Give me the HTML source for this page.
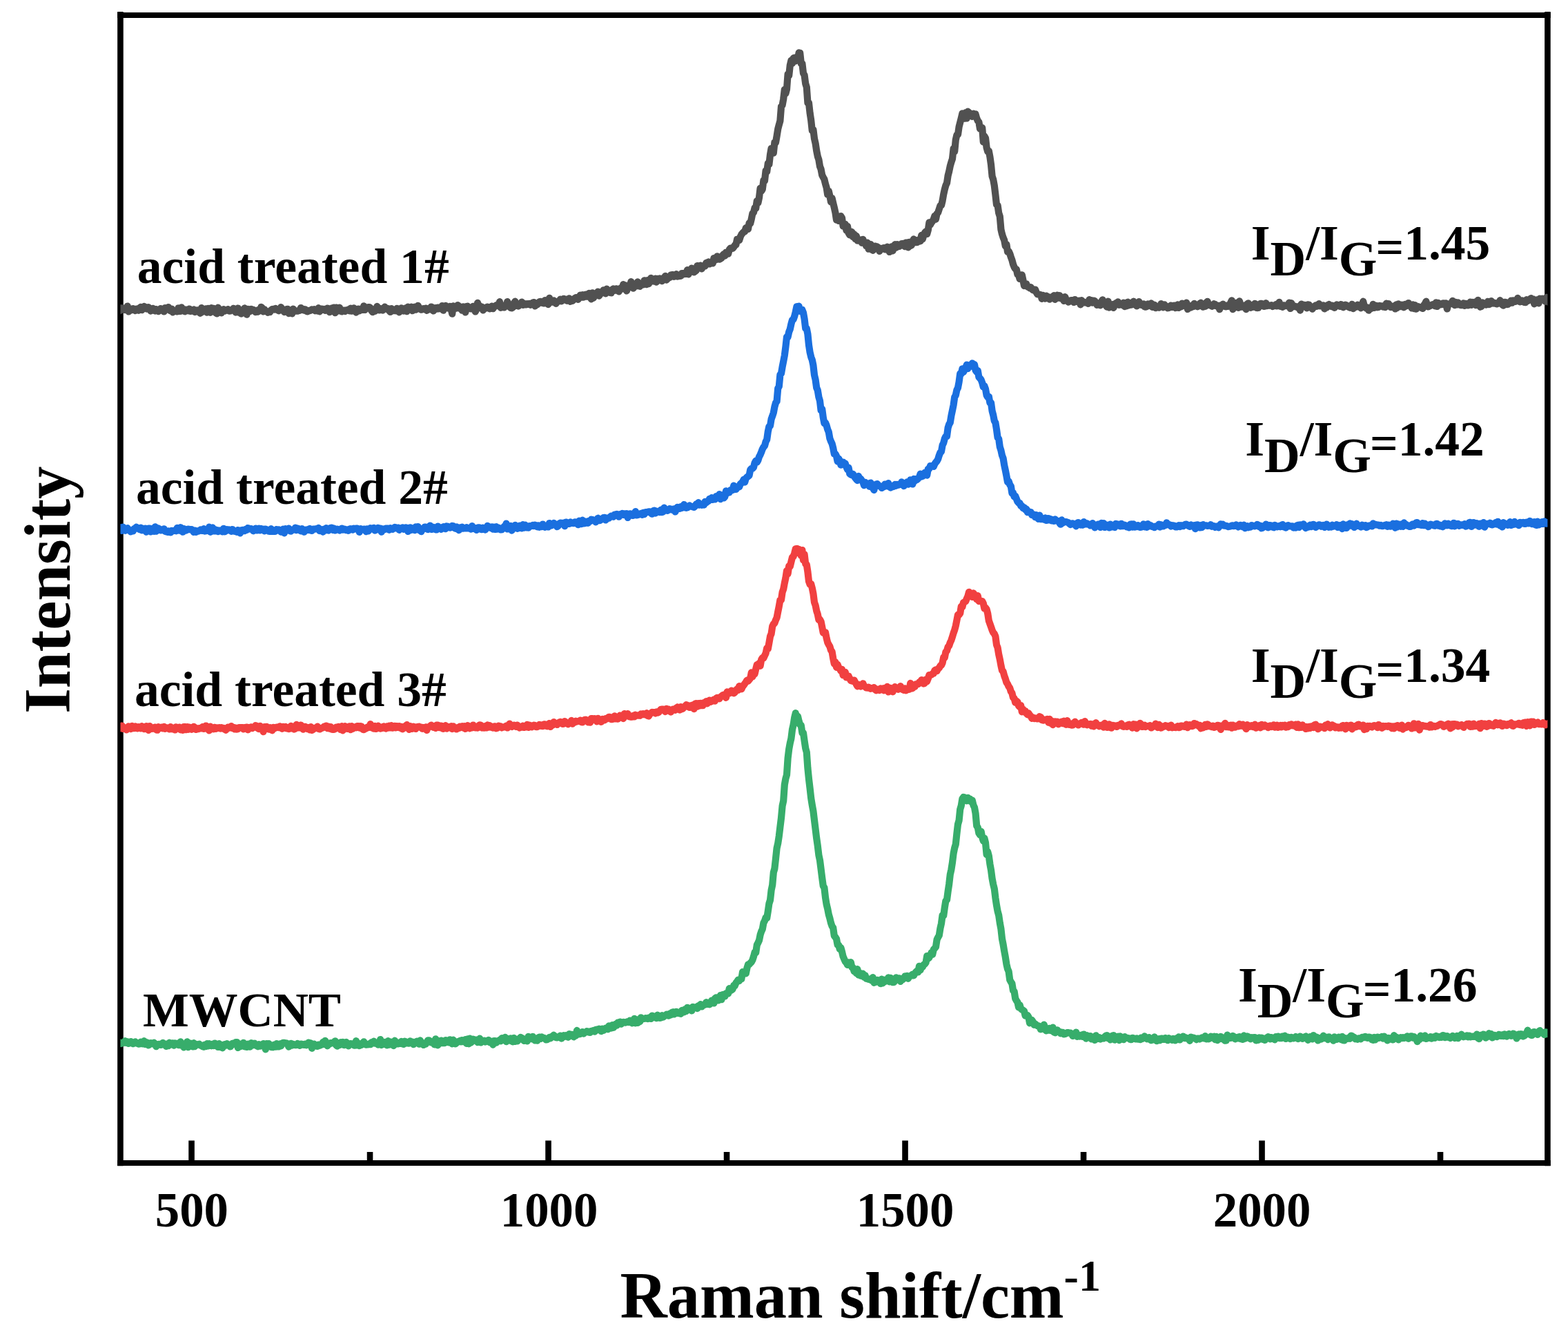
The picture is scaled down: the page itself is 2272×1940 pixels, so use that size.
<!DOCTYPE html>
<html lang="en">
<head>
<meta charset="utf-8">
<title>Raman spectra of MWCNT and acid treated samples</title>
<style>
html,body{margin:0;padding:0;background:#fff;}
body{width:2272px;height:1940px;overflow:hidden;}
svg{display:block;}
text{font-family:"Liberation Serif", "DejaVu Serif", serif;font-weight:bold;fill:#000;}
</style>
</head>
<body>
<svg width="2272" height="1940" viewBox="0 0 2272 1940">
<rect x="0" y="0" width="2272" height="1940" fill="#ffffff"/>
<defs><clipPath id="plot"><rect x="174.45" y="21.8" width="2067.9500000000003" height="1663.2"/></clipPath></defs>
<g id="frame" fill="none" stroke="#000" stroke-linecap="butt">
<line x1="170.15" y1="21.9" x2="2246.70" y2="21.9" stroke-width="8.0"/>
<line x1="170.15" y1="1685" x2="2246.70" y2="1685" stroke-width="8.0"/>
<line x1="174.45" y1="17.1" x2="174.45" y2="1689.2" stroke-width="8.6"/>
<line x1="2242.4" y1="17.1" x2="2242.4" y2="1689.2" stroke-width="8.6"/>
<line x1="277.55" y1="1685.0" x2="277.55" y2="1652.5" stroke-width="8.6"/>
<line x1="794.54" y1="1685.0" x2="794.54" y2="1652.5" stroke-width="8.6"/>
<line x1="1311.52" y1="1685.0" x2="1311.52" y2="1652.5" stroke-width="8.6"/>
<line x1="1828.51" y1="1685.0" x2="1828.51" y2="1652.5" stroke-width="8.6"/>
<line x1="536.04" y1="1685.0" x2="536.04" y2="1669" stroke-width="8.6"/>
<line x1="1053.03" y1="1685.0" x2="1053.03" y2="1669" stroke-width="8.6"/>
<line x1="1570.02" y1="1685.0" x2="1570.02" y2="1669" stroke-width="8.6"/>
<line x1="2087.00" y1="1685.0" x2="2087.00" y2="1669" stroke-width="8.6"/>
</g>
<g id="curves" clip-path="url(#plot)" fill="none" stroke-width="10.2" stroke-linejoin="round" stroke-linecap="round">
<path stroke="#37AD6B" d="M170.4,1512.5 L172.0,1510.0 L173.6,1510.4 L175.2,1512.0 L176.8,1511.5 L178.4,1511.1 L180.0,1509.4 L181.6,1508.2 L183.2,1511.0 L184.8,1509.4 L186.4,1512.0 L188.0,1510.9 L189.6,1509.1 L191.2,1511.1 L192.8,1512.1 L194.4,1511.1 L196.0,1509.4 L197.6,1511.4 L199.2,1511.7 L200.8,1512.6 L202.4,1512.5 L204.0,1509.5 L205.6,1510.3 L207.2,1512.5 L208.8,1508.2 L210.4,1513.0 L212.0,1510.0 L213.6,1510.8 L215.2,1514.4 L216.8,1511.6 L218.4,1511.2 L220.0,1512.4 L221.6,1511.8 L223.2,1510.8 L224.8,1512.5 L226.4,1516.2 L228.0,1513.9 L229.6,1513.1 L231.2,1512.8 L232.8,1513.9 L234.4,1513.6 L236.0,1510.9 L237.6,1513.5 L239.2,1512.7 L240.8,1515.9 L242.4,1512.3 L244.0,1515.2 L245.6,1510.7 L247.2,1513.5 L248.8,1511.6 L250.4,1511.3 L252.0,1514.6 L253.6,1511.3 L255.2,1512.9 L256.8,1511.9 L258.4,1514.1 L260.0,1513.9 L261.6,1509.3 L263.2,1514.8 L264.8,1512.4 L266.4,1517.5 L268.0,1515.4 L269.6,1515.6 L271.2,1509.3 L272.8,1517.2 L274.4,1514.1 L276.0,1511.5 L277.6,1514.6 L279.2,1516.5 L280.8,1511.2 L282.4,1516.2 L284.0,1513.6 L285.6,1513.2 L287.2,1513.4 L288.8,1512.7 L290.4,1514.6 L292.0,1514.7 L293.6,1516.2 L295.2,1516.8 L296.8,1513.6 L298.4,1516.2 L300.0,1512.1 L301.6,1515.4 L303.2,1512.2 L304.8,1513.2 L306.4,1515.3 L308.0,1512.8 L309.6,1515.1 L311.2,1511.5 L312.8,1512.9 L314.4,1515.2 L316.0,1517.0 L317.6,1512.0 L319.2,1517.1 L320.8,1514.6 L322.4,1518.3 L324.0,1513.6 L325.6,1513.2 L327.2,1514.7 L328.8,1512.1 L330.4,1514.3 L332.0,1514.0 L333.6,1516.5 L335.2,1514.7 L336.8,1511.8 L338.4,1511.6 L340.0,1512.3 L341.6,1510.2 L343.2,1510.1 L344.8,1517.9 L346.4,1512.5 L348.0,1516.4 L349.6,1512.6 L351.2,1513.2 L352.8,1510.8 L354.4,1516.3 L356.0,1513.2 L357.6,1517.0 L359.2,1512.6 L360.8,1516.3 L362.4,1516.7 L364.0,1511.1 L365.6,1514.7 L367.2,1511.9 L368.8,1511.7 L370.4,1514.1 L372.0,1515.3 L373.6,1516.3 L375.2,1513.2 L376.8,1515.6 L378.4,1514.8 L380.0,1513.7 L381.6,1512.0 L383.2,1513.8 L384.8,1520.3 L386.4,1512.0 L388.0,1513.4 L389.6,1512.0 L391.2,1516.2 L392.8,1517.0 L394.4,1516.1 L396.0,1517.3 L397.6,1513.5 L399.2,1516.7 L400.8,1512.0 L402.4,1516.5 L404.0,1516.4 L405.6,1512.4 L407.2,1515.3 L408.8,1511.5 L410.4,1510.9 L412.0,1510.9 L413.6,1511.4 L415.2,1511.3 L416.8,1513.2 L418.4,1516.7 L420.0,1512.9 L421.6,1511.8 L423.2,1514.6 L424.8,1512.9 L426.4,1513.5 L428.0,1514.1 L429.6,1514.1 L431.2,1512.0 L432.8,1512.8 L434.4,1515.0 L436.0,1512.5 L437.6,1512.7 L439.2,1513.8 L440.8,1514.0 L442.4,1512.5 L444.0,1514.2 L445.6,1513.1 L447.2,1510.6 L448.8,1514.3 L450.4,1511.4 L452.0,1518.8 L453.6,1513.6 L455.2,1512.5 L456.8,1514.6 L458.4,1515.7 L460.0,1515.8 L461.6,1513.5 L463.2,1514.9 L464.8,1514.2 L466.4,1513.0 L468.0,1510.0 L469.6,1512.9 L471.2,1507.9 L472.8,1511.1 L474.4,1515.3 L476.0,1513.1 L477.6,1512.6 L479.2,1511.0 L480.8,1511.0 L482.4,1511.3 L484.0,1510.0 L485.6,1508.3 L487.2,1514.5 L488.8,1515.7 L490.4,1511.3 L492.0,1514.0 L493.6,1510.1 L495.2,1513.1 L496.8,1509.8 L498.4,1514.1 L500.0,1512.5 L501.6,1509.9 L503.2,1513.4 L504.8,1515.4 L506.4,1512.3 L508.0,1512.2 L509.6,1512.3 L511.2,1512.4 L512.8,1514.6 L514.4,1514.6 L516.0,1508.1 L517.6,1514.4 L519.2,1511.7 L520.8,1515.2 L522.4,1512.9 L524.0,1513.8 L525.6,1511.0 L527.2,1509.4 L528.8,1512.4 L530.4,1513.7 L532.0,1513.3 L533.6,1513.3 L535.2,1512.2 L536.8,1513.2 L538.4,1510.2 L540.0,1511.5 L541.6,1508.7 L543.2,1511.6 L544.8,1511.1 L546.4,1511.7 L548.0,1513.6 L549.6,1511.7 L551.2,1506.0 L552.8,1514.1 L554.4,1511.8 L556.0,1512.9 L557.6,1509.9 L559.2,1512.9 L560.8,1514.3 L562.4,1508.2 L564.0,1513.6 L565.6,1509.5 L567.2,1509.7 L568.8,1511.2 L570.4,1515.1 L572.0,1507.7 L573.6,1509.9 L575.2,1511.1 L576.8,1512.3 L578.4,1510.8 L580.0,1511.8 L581.6,1508.9 L583.2,1512.4 L584.8,1512.9 L586.4,1508.7 L588.0,1509.3 L589.6,1511.5 L591.2,1511.4 L592.8,1511.7 L594.4,1508.3 L596.0,1509.9 L597.6,1509.6 L599.2,1513.1 L600.8,1510.3 L602.4,1509.5 L604.0,1508.7 L605.6,1510.4 L607.2,1512.7 L608.8,1507.4 L610.4,1510.5 L612.0,1511.2 L613.6,1514.0 L615.2,1511.5 L616.8,1512.8 L618.4,1510.2 L620.0,1507.4 L621.6,1507.3 L623.2,1508.7 L624.8,1510.3 L626.4,1509.4 L628.0,1509.0 L629.6,1513.4 L631.2,1505.3 L632.8,1507.8 L634.4,1514.4 L636.0,1510.3 L637.6,1508.4 L639.2,1507.5 L640.8,1511.2 L642.4,1511.0 L644.0,1511.1 L645.6,1507.1 L647.2,1509.8 L648.8,1509.1 L650.4,1510.3 L652.0,1506.3 L653.6,1510.5 L655.2,1512.3 L656.8,1506.7 L658.4,1511.0 L660.0,1512.5 L661.6,1510.9 L663.2,1509.1 L664.8,1509.4 L666.4,1508.1 L668.0,1509.5 L669.6,1507.1 L671.2,1509.1 L672.8,1507.4 L674.4,1506.2 L676.0,1511.8 L677.6,1505.3 L679.2,1512.3 L680.8,1504.6 L682.4,1510.6 L684.0,1509.1 L685.6,1505.6 L687.2,1507.7 L688.8,1506.6 L690.4,1506.7 L692.0,1510.2 L693.6,1506.2 L695.2,1504.7 L696.8,1510.5 L698.4,1509.1 L700.0,1508.3 L701.6,1507.7 L703.2,1509.5 L704.8,1508.9 L706.4,1507.9 L708.0,1506.9 L709.6,1510.1 L711.2,1510.7 L712.8,1508.8 L714.4,1513.6 L716.0,1508.2 L717.6,1508.1 L719.2,1510.6 L720.8,1508.2 L722.4,1508.0 L724.0,1506.8 L725.6,1508.3 L727.2,1504.1 L728.8,1505.9 L730.4,1505.1 L732.0,1502.9 L733.6,1509.2 L735.2,1506.4 L736.8,1505.2 L738.4,1507.6 L740.0,1504.4 L741.6,1508.4 L743.2,1509.4 L744.8,1503.8 L746.4,1508.8 L748.0,1506.8 L749.6,1508.5 L751.2,1506.6 L752.8,1504.5 L754.4,1503.0 L756.0,1503.9 L757.6,1504.9 L759.2,1507.9 L760.8,1507.0 L762.4,1506.2 L764.0,1508.4 L765.6,1501.9 L767.2,1503.1 L768.8,1503.1 L770.4,1505.3 L772.0,1501.9 L773.6,1503.9 L775.2,1507.5 L776.8,1506.7 L778.4,1507.7 L780.0,1503.5 L781.6,1502.5 L783.2,1504.9 L784.8,1502.4 L786.4,1503.9 L788.0,1503.7 L789.6,1504.9 L791.2,1506.5 L792.8,1506.3 L794.4,1505.3 L796.0,1502.9 L797.6,1504.5 L799.2,1502.3 L800.8,1501.1 L802.4,1499.8 L804.0,1501.4 L805.6,1503.3 L807.2,1503.5 L808.8,1502.1 L810.4,1502.9 L812.0,1500.5 L813.6,1504.6 L815.2,1501.4 L816.8,1500.3 L818.4,1501.9 L820.0,1500.1 L821.6,1500.8 L823.2,1502.8 L824.8,1498.1 L826.4,1498.9 L828.0,1498.8 L829.6,1499.0 L831.2,1502.3 L832.8,1500.1 L834.4,1500.6 L836.0,1492.9 L837.6,1498.5 L839.2,1497.8 L840.8,1498.1 L842.4,1496.8 L844.0,1495.2 L845.6,1497.6 L847.2,1495.5 L848.8,1495.6 L850.4,1494.1 L852.0,1494.5 L853.6,1495.7 L855.2,1495.9 L856.8,1493.9 L858.4,1493.8 L860.0,1492.9 L861.6,1494.7 L863.2,1491.8 L864.8,1491.7 L866.4,1492.2 L868.0,1490.7 L869.6,1491.8 L871.2,1494.1 L872.8,1490.5 L874.4,1493.0 L876.0,1491.6 L877.6,1489.7 L879.2,1490.3 L880.8,1491.3 L882.4,1486.4 L884.0,1489.0 L885.6,1489.6 L887.2,1485.2 L888.8,1488.9 L890.4,1487.0 L892.0,1483.7 L893.6,1485.7 L895.2,1481.6 L896.8,1481.5 L898.4,1480.5 L900.0,1483.7 L901.6,1482.0 L903.2,1480.9 L904.8,1481.0 L906.4,1481.6 L908.0,1480.7 L909.6,1480.1 L911.2,1481.1 L912.8,1478.6 L914.4,1479.2 L916.0,1482.3 L917.6,1480.4 L919.2,1475.8 L920.8,1482.3 L922.4,1477.2 L924.0,1482.0 L925.6,1478.6 L927.2,1480.1 L928.8,1474.3 L930.4,1476.1 L932.0,1476.1 L933.6,1476.0 L935.2,1475.2 L936.8,1475.3 L938.4,1476.0 L940.0,1474.7 L941.6,1475.4 L943.2,1476.0 L944.8,1471.5 L946.4,1474.3 L948.0,1472.5 L949.6,1473.9 L951.2,1475.1 L952.8,1470.7 L954.4,1472.4 L956.0,1474.8 L957.6,1474.7 L959.2,1471.2 L960.8,1473.7 L962.4,1472.2 L964.0,1471.4 L965.6,1469.9 L967.2,1471.1 L968.8,1471.6 L970.4,1468.5 L972.0,1470.4 L973.6,1466.8 L975.2,1466.3 L976.8,1469.5 L978.4,1467.5 L980.0,1465.9 L981.6,1467.8 L983.2,1468.1 L984.8,1466.4 L986.4,1468.8 L988.0,1464.0 L989.6,1463.6 L991.2,1466.4 L992.8,1462.0 L994.4,1465.0 L996.0,1459.8 L997.6,1460.6 L999.2,1461.8 L1000.8,1460.9 L1002.4,1464.4 L1004.0,1458.8 L1005.6,1460.2 L1007.2,1460.1 L1008.8,1459.1 L1010.4,1461.1 L1012.0,1457.1 L1013.6,1456.7 L1015.2,1455.2 L1016.8,1458.5 L1018.4,1456.7 L1020.0,1456.2 L1021.6,1455.5 L1023.2,1452.2 L1024.8,1454.9 L1026.4,1453.9 L1028.0,1455.5 L1029.6,1452.8 L1031.2,1449.6 L1032.8,1449.8 L1034.4,1453.5 L1036.0,1446.5 L1037.6,1445.3 L1039.2,1447.8 L1040.8,1449.5 L1042.4,1445.7 L1044.0,1442.1 L1045.6,1448.2 L1047.2,1441.0 L1048.8,1443.2 L1050.4,1443.4 L1052.0,1439.3 L1053.6,1439.0 L1055.2,1439.5 L1056.8,1432.2 L1058.4,1435.1 L1060.0,1434.5 L1061.6,1433.1 L1063.2,1427.9 L1064.8,1428.1 L1066.4,1424.1 L1068.0,1422.2 L1069.6,1419.6 L1071.2,1421.1 L1072.8,1418.1 L1074.4,1418.1 L1076.0,1408.2 L1077.6,1409.3 L1079.2,1409.7 L1080.8,1410.5 L1082.4,1402.5 L1084.0,1397.5 L1085.6,1397.3 L1087.2,1395.3 L1088.8,1393.9 L1090.4,1390.9 L1092.0,1385.9 L1093.6,1379.7 L1095.2,1380.3 L1096.8,1369.1 L1098.4,1366.0 L1100.0,1362.4 L1101.6,1354.4 L1103.2,1349.5 L1104.8,1346.1 L1106.4,1337.1 L1108.0,1334.1 L1109.6,1329.4 L1111.2,1330.2 L1112.8,1320.3 L1114.4,1309.1 L1116.0,1304.2 L1117.6,1289.7 L1119.2,1282.2 L1120.8,1264.2 L1122.4,1258.5 L1124.0,1244.0 L1125.6,1228.8 L1127.2,1221.9 L1128.8,1211.4 L1130.4,1198.2 L1132.0,1185.2 L1133.6,1167.6 L1135.2,1160.4 L1136.8,1137.2 L1138.4,1128.1 L1140.0,1122.6 L1141.6,1098.7 L1143.2,1085.4 L1144.8,1076.7 L1146.4,1069.9 L1148.0,1057.0 L1149.6,1050.0 L1151.2,1039.7 L1152.8,1033.2 L1154.4,1041.1 L1156.0,1037.9 L1157.6,1044.9 L1159.2,1049.9 L1160.8,1050.9 L1162.4,1061.8 L1164.0,1062.0 L1165.6,1073.4 L1167.2,1084.1 L1168.8,1089.8 L1170.4,1112.8 L1172.0,1128.8 L1173.6,1142.2 L1175.2,1156.5 L1176.8,1166.4 L1178.4,1175.1 L1180.0,1188.3 L1181.6,1201.3 L1183.2,1214.6 L1184.8,1225.6 L1186.4,1239.0 L1188.0,1246.5 L1189.6,1259.2 L1191.2,1271.9 L1192.8,1283.7 L1194.4,1286.1 L1196.0,1300.3 L1197.6,1310.3 L1199.2,1316.8 L1200.8,1325.0 L1202.4,1330.5 L1204.0,1337.3 L1205.6,1341.9 L1207.2,1344.2 L1208.8,1355.8 L1210.4,1357.8 L1212.0,1360.3 L1213.6,1368.9 L1215.2,1369.2 L1216.8,1375.1 L1218.4,1373.2 L1220.0,1378.9 L1221.6,1385.8 L1223.2,1389.6 L1224.8,1393.2 L1226.4,1394.8 L1228.0,1398.0 L1229.6,1394.5 L1231.2,1394.8 L1232.8,1394.2 L1234.4,1401.4 L1236.0,1402.0 L1237.6,1407.3 L1239.2,1404.7 L1240.8,1410.0 L1242.4,1404.1 L1244.0,1412.5 L1245.6,1409.5 L1247.2,1413.7 L1248.8,1413.9 L1250.4,1410.7 L1252.0,1415.6 L1253.6,1413.3 L1255.2,1417.7 L1256.8,1418.1 L1258.4,1418.8 L1260.0,1418.5 L1261.6,1419.2 L1263.2,1420.7 L1264.8,1416.0 L1266.4,1423.8 L1268.0,1421.8 L1269.6,1422.5 L1271.2,1419.9 L1272.8,1422.6 L1274.4,1420.8 L1276.0,1425.2 L1277.6,1418.6 L1279.2,1424.3 L1280.8,1419.7 L1282.4,1422.1 L1284.0,1420.6 L1285.6,1418.9 L1287.2,1416.4 L1288.8,1422.4 L1290.4,1416.9 L1292.0,1419.5 L1293.6,1423.2 L1295.2,1423.1 L1296.8,1420.7 L1298.4,1416.3 L1300.0,1419.4 L1301.6,1419.6 L1303.2,1417.4 L1304.8,1421.9 L1306.4,1419.2 L1308.0,1419.1 L1309.6,1417.7 L1311.2,1414.4 L1312.8,1414.7 L1314.4,1413.8 L1316.0,1417.8 L1317.6,1414.2 L1319.2,1414.0 L1320.8,1412.9 L1322.4,1411.7 L1324.0,1413.4 L1325.6,1410.5 L1327.2,1408.1 L1328.8,1406.6 L1330.4,1408.4 L1332.0,1399.8 L1333.6,1405.7 L1335.2,1400.1 L1336.8,1401.0 L1338.4,1397.8 L1340.0,1396.9 L1341.6,1394.6 L1343.2,1385.0 L1344.8,1388.8 L1346.4,1387.5 L1348.0,1384.0 L1349.6,1380.1 L1351.2,1382.8 L1352.8,1375.6 L1354.4,1374.0 L1356.0,1371.9 L1357.6,1361.3 L1359.2,1358.0 L1360.8,1355.2 L1362.4,1345.1 L1364.0,1338.0 L1365.6,1326.0 L1367.2,1326.8 L1368.8,1315.0 L1370.4,1305.1 L1372.0,1303.8 L1373.6,1291.6 L1375.2,1280.9 L1376.8,1267.0 L1378.4,1259.8 L1380.0,1249.5 L1381.6,1236.5 L1383.2,1228.5 L1384.8,1223.2 L1386.4,1207.9 L1388.0,1194.2 L1389.6,1188.8 L1391.2,1172.6 L1392.8,1167.2 L1394.4,1157.4 L1396.0,1155.0 L1397.6,1155.3 L1399.2,1158.8 L1400.8,1160.4 L1402.4,1155.8 L1404.0,1159.7 L1405.6,1157.5 L1407.2,1161.7 L1408.8,1159.6 L1410.4,1166.5 L1412.0,1169.9 L1413.6,1178.7 L1415.2,1196.5 L1416.8,1198.8 L1418.4,1207.2 L1420.0,1209.5 L1421.6,1204.5 L1423.2,1213.1 L1424.8,1218.4 L1426.4,1214.5 L1428.0,1221.0 L1429.6,1238.1 L1431.2,1234.1 L1432.8,1240.1 L1434.4,1251.8 L1436.0,1260.6 L1437.6,1272.9 L1439.2,1281.3 L1440.8,1287.7 L1442.4,1300.9 L1444.0,1311.5 L1445.6,1320.3 L1447.2,1326.2 L1448.8,1337.3 L1450.4,1345.7 L1452.0,1360.2 L1453.6,1368.3 L1455.2,1378.0 L1456.8,1386.7 L1458.4,1396.8 L1460.0,1403.8 L1461.6,1407.5 L1463.2,1419.7 L1464.8,1422.7 L1466.4,1425.0 L1468.0,1435.1 L1469.6,1436.4 L1471.2,1446.6 L1472.8,1449.8 L1474.4,1452.0 L1476.0,1459.4 L1477.6,1456.0 L1479.2,1461.4 L1480.8,1462.7 L1482.4,1463.6 L1484.0,1464.9 L1485.6,1471.7 L1487.2,1470.7 L1488.8,1471.0 L1490.4,1473.5 L1492.0,1482.3 L1493.6,1477.8 L1495.2,1477.9 L1496.8,1480.4 L1498.4,1484.8 L1500.0,1483.6 L1501.6,1484.8 L1503.2,1486.2 L1504.8,1486.3 L1506.4,1487.6 L1508.0,1491.4 L1509.6,1488.9 L1511.2,1489.6 L1512.8,1484.6 L1514.4,1492.0 L1516.0,1493.4 L1517.6,1490.0 L1519.2,1492.6 L1520.8,1489.9 L1522.4,1493.0 L1524.0,1493.4 L1525.6,1488.7 L1527.2,1495.5 L1528.8,1496.3 L1530.4,1493.8 L1532.0,1492.3 L1533.6,1494.8 L1535.2,1494.8 L1536.8,1497.3 L1538.4,1495.7 L1540.0,1495.9 L1541.6,1498.4 L1543.2,1498.0 L1544.8,1497.3 L1546.4,1496.1 L1548.0,1496.2 L1549.6,1496.6 L1551.2,1496.7 L1552.8,1497.8 L1554.4,1501.0 L1556.0,1498.4 L1557.6,1498.8 L1559.2,1495.6 L1560.8,1501.8 L1562.4,1499.4 L1564.0,1501.6 L1565.6,1501.5 L1567.2,1499.6 L1568.8,1502.0 L1570.4,1498.5 L1572.0,1500.2 L1573.6,1504.6 L1575.2,1500.2 L1576.8,1503.0 L1578.4,1502.4 L1580.0,1501.0 L1581.6,1505.5 L1583.2,1502.6 L1584.8,1504.4 L1586.4,1507.0 L1588.0,1500.3 L1589.6,1503.0 L1591.2,1505.0 L1592.8,1503.1 L1594.4,1505.6 L1596.0,1504.7 L1597.6,1503.9 L1599.2,1504.5 L1600.8,1502.1 L1602.4,1500.7 L1604.0,1500.2 L1605.6,1504.3 L1607.2,1501.9 L1608.8,1506.4 L1610.4,1501.6 L1612.0,1500.6 L1613.6,1500.1 L1615.2,1506.7 L1616.8,1504.1 L1618.4,1505.1 L1620.0,1501.7 L1621.6,1507.1 L1623.2,1501.3 L1624.8,1504.1 L1626.4,1503.3 L1628.0,1506.2 L1629.6,1502.1 L1631.2,1503.5 L1632.8,1503.7 L1634.4,1504.2 L1636.0,1504.4 L1637.6,1505.8 L1639.2,1506.2 L1640.8,1503.8 L1642.4,1504.2 L1644.0,1504.8 L1645.6,1505.3 L1647.2,1504.4 L1648.8,1505.6 L1650.4,1505.2 L1652.0,1506.2 L1653.6,1503.5 L1655.2,1505.1 L1656.8,1503.6 L1658.4,1501.4 L1660.0,1503.4 L1661.6,1505.1 L1663.2,1503.9 L1664.8,1503.0 L1666.4,1506.2 L1668.0,1507.2 L1669.6,1506.2 L1671.2,1506.3 L1672.8,1502.4 L1674.4,1506.0 L1676.0,1508.1 L1677.6,1507.5 L1679.2,1505.2 L1680.8,1507.3 L1682.4,1504.6 L1684.0,1504.5 L1685.6,1506.0 L1687.2,1505.9 L1688.8,1504.0 L1690.4,1504.8 L1692.0,1507.2 L1693.6,1504.2 L1695.2,1505.5 L1696.8,1505.8 L1698.4,1507.0 L1700.0,1505.0 L1701.6,1505.7 L1703.2,1507.4 L1704.8,1504.2 L1706.4,1503.9 L1708.0,1502.4 L1709.6,1506.5 L1711.2,1504.2 L1712.8,1504.0 L1714.4,1501.6 L1716.0,1504.1 L1717.6,1503.1 L1719.2,1504.3 L1720.8,1504.1 L1722.4,1504.8 L1724.0,1507.8 L1725.6,1502.6 L1727.2,1504.4 L1728.8,1503.5 L1730.4,1503.9 L1732.0,1504.8 L1733.6,1506.1 L1735.2,1504.6 L1736.8,1504.7 L1738.4,1505.5 L1740.0,1504.5 L1741.6,1503.4 L1743.2,1504.2 L1744.8,1504.4 L1746.4,1501.1 L1748.0,1505.5 L1749.6,1504.4 L1751.2,1505.4 L1752.8,1504.5 L1754.4,1501.7 L1756.0,1502.8 L1757.6,1504.0 L1759.2,1501.7 L1760.8,1506.2 L1762.4,1501.8 L1764.0,1507.1 L1765.6,1504.5 L1767.2,1505.1 L1768.8,1501.8 L1770.4,1503.5 L1772.0,1503.3 L1773.6,1506.6 L1775.2,1507.7 L1776.8,1507.4 L1778.4,1499.5 L1780.0,1504.2 L1781.6,1501.7 L1783.2,1503.9 L1784.8,1503.3 L1786.4,1501.0 L1788.0,1501.9 L1789.6,1505.3 L1791.2,1503.8 L1792.8,1502.9 L1794.4,1504.3 L1796.0,1502.1 L1797.6,1505.2 L1799.2,1503.4 L1800.8,1506.0 L1802.4,1500.4 L1804.0,1504.7 L1805.6,1503.2 L1807.2,1501.5 L1808.8,1502.2 L1810.4,1504.1 L1812.0,1505.1 L1813.6,1503.2 L1815.2,1503.7 L1816.8,1503.1 L1818.4,1503.1 L1820.0,1507.5 L1821.6,1505.3 L1823.2,1506.9 L1824.8,1503.3 L1826.4,1504.7 L1828.0,1503.8 L1829.6,1505.9 L1831.2,1504.5 L1832.8,1507.0 L1834.4,1504.3 L1836.0,1503.3 L1837.6,1502.2 L1839.2,1502.9 L1840.8,1505.4 L1842.4,1503.1 L1844.0,1504.1 L1845.6,1505.4 L1847.2,1506.3 L1848.8,1502.0 L1850.4,1503.4 L1852.0,1501.6 L1853.6,1504.2 L1855.2,1503.8 L1856.8,1504.2 L1858.4,1501.5 L1860.0,1503.0 L1861.6,1500.7 L1863.2,1505.0 L1864.8,1502.9 L1866.4,1502.6 L1868.0,1504.3 L1869.6,1505.0 L1871.2,1502.8 L1872.8,1503.8 L1874.4,1504.3 L1876.0,1503.2 L1877.6,1502.0 L1879.2,1502.5 L1880.8,1505.1 L1882.4,1504.1 L1884.0,1501.6 L1885.6,1502.8 L1887.2,1504.9 L1888.8,1503.7 L1890.4,1502.3 L1892.0,1501.6 L1893.6,1504.0 L1895.2,1506.8 L1896.8,1503.4 L1898.4,1502.2 L1900.0,1502.1 L1901.6,1505.5 L1903.2,1500.1 L1904.8,1502.8 L1906.4,1503.6 L1908.0,1502.6 L1909.6,1507.5 L1911.2,1504.1 L1912.8,1504.0 L1914.4,1505.6 L1916.0,1503.7 L1917.6,1500.7 L1919.2,1504.2 L1920.8,1502.9 L1922.4,1502.8 L1924.0,1506.1 L1925.6,1502.3 L1927.2,1503.9 L1928.8,1503.9 L1930.4,1504.5 L1932.0,1507.7 L1933.6,1502.3 L1935.2,1503.9 L1936.8,1506.0 L1938.4,1504.1 L1940.0,1502.7 L1941.6,1503.2 L1943.2,1506.1 L1944.8,1501.8 L1946.4,1507.2 L1948.0,1507.4 L1949.6,1504.3 L1951.2,1504.9 L1952.8,1505.0 L1954.4,1503.6 L1956.0,1504.9 L1957.6,1500.5 L1959.2,1501.2 L1960.8,1502.6 L1962.4,1503.0 L1964.0,1505.2 L1965.6,1504.6 L1967.2,1505.7 L1968.8,1504.3 L1970.4,1504.3 L1972.0,1505.2 L1973.6,1502.9 L1975.2,1502.7 L1976.8,1503.2 L1978.4,1501.8 L1980.0,1503.4 L1981.6,1503.9 L1983.2,1502.5 L1984.8,1502.8 L1986.4,1503.3 L1988.0,1506.4 L1989.6,1506.8 L1991.2,1502.9 L1992.8,1506.3 L1994.4,1504.3 L1996.0,1502.5 L1997.6,1503.9 L1999.2,1503.1 L2000.8,1503.0 L2002.4,1501.9 L2004.0,1504.6 L2005.6,1501.5 L2007.2,1503.1 L2008.8,1505.2 L2010.4,1507.4 L2012.0,1504.0 L2013.6,1504.4 L2015.2,1505.5 L2016.8,1503.9 L2018.4,1506.5 L2020.0,1500.1 L2021.6,1504.7 L2023.2,1502.5 L2024.8,1504.3 L2026.4,1506.4 L2028.0,1504.1 L2029.6,1503.2 L2031.2,1504.1 L2032.8,1503.1 L2034.4,1504.0 L2036.0,1503.2 L2037.6,1502.5 L2039.2,1501.3 L2040.8,1504.8 L2042.4,1503.1 L2044.0,1501.3 L2045.6,1501.4 L2047.2,1503.7 L2048.8,1502.0 L2050.4,1503.8 L2052.0,1505.4 L2053.6,1509.1 L2055.2,1504.0 L2056.8,1506.2 L2058.4,1500.6 L2060.0,1502.2 L2061.6,1503.6 L2063.2,1504.0 L2064.8,1500.4 L2066.4,1505.0 L2068.0,1504.1 L2069.6,1503.7 L2071.2,1503.9 L2072.8,1502.1 L2074.4,1504.7 L2076.0,1503.3 L2077.6,1502.3 L2079.2,1503.8 L2080.8,1500.9 L2082.4,1502.0 L2084.0,1501.9 L2085.6,1503.1 L2087.2,1502.0 L2088.8,1502.9 L2090.4,1500.1 L2092.0,1500.3 L2093.6,1503.2 L2095.2,1502.3 L2096.8,1501.0 L2098.4,1502.8 L2100.0,1502.9 L2101.6,1504.0 L2103.2,1503.0 L2104.8,1500.9 L2106.4,1502.3 L2108.0,1504.0 L2109.6,1503.1 L2111.2,1500.9 L2112.8,1504.1 L2114.4,1500.7 L2116.0,1501.5 L2117.6,1498.6 L2119.2,1501.9 L2120.8,1502.3 L2122.4,1501.3 L2124.0,1501.6 L2125.6,1500.3 L2127.2,1502.4 L2128.8,1500.5 L2130.4,1502.4 L2132.0,1502.1 L2133.6,1501.5 L2135.2,1501.9 L2136.8,1501.8 L2138.4,1500.9 L2140.0,1498.5 L2141.6,1504.0 L2143.2,1505.1 L2144.8,1501.5 L2146.4,1499.7 L2148.0,1501.4 L2149.6,1498.5 L2151.2,1501.9 L2152.8,1503.7 L2154.4,1501.6 L2156.0,1501.7 L2157.6,1497.2 L2159.2,1500.0 L2160.8,1498.2 L2162.4,1503.4 L2164.0,1500.2 L2165.6,1499.8 L2167.2,1501.2 L2168.8,1502.1 L2170.4,1501.3 L2172.0,1498.8 L2173.6,1500.7 L2175.2,1500.9 L2176.8,1499.3 L2178.4,1501.1 L2180.0,1498.4 L2181.6,1500.7 L2183.2,1501.6 L2184.8,1500.3 L2186.4,1497.9 L2188.0,1500.2 L2189.6,1500.8 L2191.2,1500.5 L2192.8,1497.5 L2194.4,1499.0 L2196.0,1499.1 L2197.6,1504.5 L2199.2,1500.1 L2200.8,1498.4 L2202.4,1500.8 L2204.0,1498.2 L2205.6,1498.5 L2207.2,1501.4 L2208.8,1500.7 L2210.4,1498.9 L2212.0,1496.8 L2213.6,1492.7 L2215.2,1498.2 L2216.8,1496.2 L2218.4,1499.8 L2220.0,1499.8 L2221.6,1495.3 L2223.2,1495.1 L2224.8,1496.6 L2226.4,1497.5 L2228.0,1498.9 L2229.6,1494.7 L2231.2,1493.1 L2232.8,1496.2 L2234.4,1495.7 L2236.0,1496.3 L2237.6,1499.0 L2239.2,1495.3 L2240.8,1498.1 L2242.4,1495.7 L2244.0,1496.9 L2245.6,1497.6"/>
<path stroke="#F14040" d="M170.4,1054.9 L172.0,1053.2 L173.6,1055.2 L175.2,1054.3 L176.8,1051.5 L178.4,1056.0 L180.0,1054.1 L181.6,1055.4 L183.2,1057.5 L184.8,1054.8 L186.4,1052.4 L188.0,1053.2 L189.6,1056.1 L191.2,1051.8 L192.8,1054.9 L194.4,1055.1 L196.0,1052.4 L197.6,1054.7 L199.2,1055.4 L200.8,1053.1 L202.4,1053.6 L204.0,1055.4 L205.6,1052.2 L207.2,1053.0 L208.8,1056.2 L210.4,1054.7 L212.0,1052.1 L213.6,1054.6 L215.2,1058.0 L216.8,1052.0 L218.4,1056.0 L220.0,1056.0 L221.6,1054.3 L223.2,1055.7 L224.8,1053.5 L226.4,1057.4 L228.0,1057.7 L229.6,1053.2 L231.2,1054.3 L232.8,1054.9 L234.4,1053.6 L236.0,1055.4 L237.6,1052.9 L239.2,1055.8 L240.8,1054.2 L242.4,1054.7 L244.0,1055.6 L245.6,1056.4 L247.2,1053.1 L248.8,1056.2 L250.4,1056.4 L252.0,1054.6 L253.6,1057.5 L255.2,1053.5 L256.8,1053.9 L258.4,1055.5 L260.0,1053.7 L261.6,1057.3 L263.2,1055.2 L264.8,1057.9 L266.4,1053.1 L268.0,1053.2 L269.6,1057.2 L271.2,1053.1 L272.8,1056.8 L274.4,1053.5 L276.0,1055.4 L277.6,1057.0 L279.2,1054.8 L280.8,1052.9 L282.4,1054.1 L284.0,1057.0 L285.6,1055.3 L287.2,1056.2 L288.8,1055.1 L290.4,1055.5 L292.0,1054.6 L293.6,1053.2 L295.2,1055.9 L296.8,1055.3 L298.4,1051.5 L300.0,1055.0 L301.6,1056.7 L303.2,1058.4 L304.8,1052.6 L306.4,1055.2 L308.0,1056.0 L309.6,1056.3 L311.2,1053.8 L312.8,1055.9 L314.4,1054.3 L316.0,1054.9 L317.6,1054.1 L319.2,1055.5 L320.8,1054.3 L322.4,1055.5 L324.0,1054.9 L325.6,1056.6 L327.2,1057.9 L328.8,1054.9 L330.4,1053.7 L332.0,1054.6 L333.6,1054.0 L335.2,1052.1 L336.8,1055.0 L338.4,1054.1 L340.0,1056.5 L341.6,1054.7 L343.2,1056.6 L344.8,1056.3 L346.4,1054.1 L348.0,1054.4 L349.6,1054.0 L351.2,1054.1 L352.8,1056.4 L354.4,1054.0 L356.0,1054.2 L357.6,1053.5 L359.2,1057.3 L360.8,1054.2 L362.4,1054.6 L364.0,1053.3 L365.6,1055.2 L367.2,1053.5 L368.8,1053.6 L370.4,1051.2 L372.0,1051.9 L373.6,1055.1 L375.2,1056.1 L376.8,1051.8 L378.4,1055.0 L380.0,1055.1 L381.6,1060.1 L383.2,1053.0 L384.8,1053.5 L386.4,1052.9 L388.0,1056.1 L389.6,1056.5 L391.2,1054.2 L392.8,1057.3 L394.4,1058.3 L396.0,1053.8 L397.6,1055.6 L399.2,1054.3 L400.8,1053.5 L402.4,1053.8 L404.0,1054.2 L405.6,1052.3 L407.2,1054.4 L408.8,1056.0 L410.4,1052.9 L412.0,1053.6 L413.6,1053.0 L415.2,1055.2 L416.8,1054.3 L418.4,1056.1 L420.0,1054.0 L421.6,1051.9 L423.2,1055.5 L424.8,1054.0 L426.4,1056.5 L428.0,1055.7 L429.6,1049.9 L431.2,1051.0 L432.8,1054.5 L434.4,1053.1 L436.0,1050.5 L437.6,1053.5 L439.2,1056.6 L440.8,1055.5 L442.4,1052.8 L444.0,1054.9 L445.6,1056.1 L447.2,1054.0 L448.8,1057.4 L450.4,1053.1 L452.0,1058.0 L453.6,1057.0 L455.2,1055.2 L456.8,1054.7 L458.4,1054.4 L460.0,1052.7 L461.6,1056.0 L463.2,1056.5 L464.8,1055.6 L466.4,1054.8 L468.0,1054.4 L469.6,1052.6 L471.2,1053.1 L472.8,1051.7 L474.4,1055.1 L476.0,1052.6 L477.6,1055.7 L479.2,1053.1 L480.8,1056.7 L482.4,1056.9 L484.0,1056.9 L485.6,1056.2 L487.2,1053.6 L488.8,1053.6 L490.4,1052.9 L492.0,1054.7 L493.6,1057.1 L495.2,1052.2 L496.8,1058.4 L498.4,1053.1 L500.0,1052.1 L501.6,1054.7 L503.2,1056.0 L504.8,1053.5 L506.4,1052.3 L508.0,1057.2 L509.6,1052.2 L511.2,1055.8 L512.8,1054.3 L514.4,1053.4 L516.0,1054.2 L517.6,1052.2 L519.2,1052.1 L520.8,1054.6 L522.4,1052.2 L524.0,1052.7 L525.6,1056.6 L527.2,1057.2 L528.8,1056.0 L530.4,1055.6 L532.0,1053.6 L533.6,1054.2 L535.2,1052.7 L536.8,1049.1 L538.4,1054.3 L540.0,1054.4 L541.6,1055.7 L543.2,1051.9 L544.8,1056.0 L546.4,1053.0 L548.0,1051.8 L549.6,1053.5 L551.2,1055.6 L552.8,1053.9 L554.4,1054.7 L556.0,1052.4 L557.6,1054.7 L559.2,1055.6 L560.8,1052.3 L562.4,1054.6 L564.0,1051.5 L565.6,1054.3 L567.2,1051.2 L568.8,1054.6 L570.4,1053.8 L572.0,1051.9 L573.6,1054.5 L575.2,1052.1 L576.8,1054.0 L578.4,1052.2 L580.0,1054.7 L581.6,1052.8 L583.2,1056.3 L584.8,1054.6 L586.4,1054.7 L588.0,1051.4 L589.6,1050.1 L591.2,1052.4 L592.8,1056.9 L594.4,1052.1 L596.0,1055.9 L597.6,1055.9 L599.2,1052.7 L600.8,1053.3 L602.4,1056.0 L604.0,1053.3 L605.6,1053.0 L607.2,1052.7 L608.8,1053.8 L610.4,1053.5 L612.0,1055.8 L613.6,1054.1 L615.2,1055.7 L616.8,1053.4 L618.4,1058.0 L620.0,1053.4 L621.6,1053.4 L623.2,1052.2 L624.8,1050.6 L626.4,1052.1 L628.0,1053.9 L629.6,1051.8 L631.2,1055.0 L632.8,1050.7 L634.4,1050.6 L636.0,1054.1 L637.6,1054.2 L639.2,1051.5 L640.8,1055.4 L642.4,1055.9 L644.0,1054.1 L645.6,1051.2 L647.2,1055.6 L648.8,1053.0 L650.4,1053.1 L652.0,1054.3 L653.6,1052.2 L655.2,1056.1 L656.8,1052.3 L658.4,1055.3 L660.0,1054.7 L661.6,1056.5 L663.2,1054.2 L664.8,1054.9 L666.4,1052.7 L668.0,1052.9 L669.6,1052.3 L671.2,1054.6 L672.8,1052.2 L674.4,1055.9 L676.0,1053.1 L677.6,1051.2 L679.2,1052.1 L680.8,1055.3 L682.4,1052.4 L684.0,1054.3 L685.6,1050.5 L687.2,1054.0 L688.8,1054.5 L690.4,1054.1 L692.0,1054.5 L693.6,1051.4 L695.2,1050.3 L696.8,1050.9 L698.4,1054.6 L700.0,1053.8 L701.6,1054.5 L703.2,1052.1 L704.8,1054.5 L706.4,1050.4 L708.0,1053.7 L709.6,1051.2 L711.2,1052.2 L712.8,1054.1 L714.4,1054.5 L716.0,1052.6 L717.6,1052.3 L719.2,1055.2 L720.8,1054.6 L722.4,1051.6 L724.0,1053.3 L725.6,1052.4 L727.2,1054.4 L728.8,1053.5 L730.4,1053.4 L732.0,1052.8 L733.6,1051.7 L735.2,1054.5 L736.8,1053.2 L738.4,1048.5 L740.0,1051.8 L741.6,1052.9 L743.2,1051.1 L744.8,1050.7 L746.4,1051.2 L748.0,1052.9 L749.6,1050.6 L751.2,1052.8 L752.8,1054.5 L754.4,1053.7 L756.0,1053.7 L757.6,1051.6 L759.2,1054.0 L760.8,1051.9 L762.4,1053.4 L764.0,1049.8 L765.6,1053.9 L767.2,1050.6 L768.8,1051.6 L770.4,1053.4 L772.0,1051.5 L773.6,1050.6 L775.2,1051.0 L776.8,1053.1 L778.4,1053.1 L780.0,1052.2 L781.6,1049.9 L783.2,1050.2 L784.8,1052.0 L786.4,1052.1 L788.0,1049.4 L789.6,1049.4 L791.2,1051.7 L792.8,1052.3 L794.4,1050.5 L796.0,1048.1 L797.6,1052.9 L799.2,1050.1 L800.8,1050.7 L802.4,1046.0 L804.0,1048.4 L805.6,1049.2 L807.2,1049.9 L808.8,1047.7 L810.4,1046.4 L812.0,1046.0 L813.6,1048.0 L815.2,1049.0 L816.8,1048.8 L818.4,1045.1 L820.0,1046.7 L821.6,1047.6 L823.2,1049.3 L824.8,1048.3 L826.4,1047.6 L828.0,1043.9 L829.6,1048.6 L831.2,1046.3 L832.8,1046.6 L834.4,1044.8 L836.0,1045.5 L837.6,1045.0 L839.2,1044.7 L840.8,1043.6 L842.4,1046.2 L844.0,1046.4 L845.6,1043.6 L847.2,1042.9 L848.8,1042.7 L850.4,1043.5 L852.0,1046.3 L853.6,1043.4 L855.2,1046.7 L856.8,1041.0 L858.4,1041.1 L860.0,1041.5 L861.6,1041.2 L863.2,1043.1 L864.8,1045.4 L866.4,1040.8 L868.0,1042.6 L869.6,1044.2 L871.2,1045.9 L872.8,1041.8 L874.4,1043.0 L876.0,1043.4 L877.6,1041.1 L879.2,1041.7 L880.8,1039.9 L882.4,1038.8 L884.0,1039.1 L885.6,1042.1 L887.2,1042.2 L888.8,1040.1 L890.4,1037.3 L892.0,1041.5 L893.6,1039.2 L895.2,1041.7 L896.8,1039.0 L898.4,1036.6 L900.0,1038.0 L901.6,1037.2 L903.2,1041.1 L904.8,1034.0 L906.4,1036.9 L908.0,1037.2 L909.6,1034.0 L911.2,1038.3 L912.8,1038.5 L914.4,1038.8 L916.0,1038.6 L917.6,1036.8 L919.2,1038.5 L920.8,1035.8 L922.4,1036.5 L924.0,1036.7 L925.6,1036.2 L927.2,1036.8 L928.8,1034.5 L930.4,1035.3 L932.0,1034.2 L933.6,1035.2 L935.2,1035.4 L936.8,1033.2 L938.4,1036.9 L940.0,1037.5 L941.6,1034.7 L943.2,1033.5 L944.8,1031.9 L946.4,1032.4 L948.0,1032.0 L949.6,1033.3 L951.2,1031.6 L952.8,1032.6 L954.4,1032.0 L956.0,1029.7 L957.6,1027.8 L959.2,1027.7 L960.8,1027.6 L962.4,1029.1 L964.0,1031.1 L965.6,1026.8 L967.2,1029.5 L968.8,1027.6 L970.4,1030.0 L972.0,1031.6 L973.6,1029.1 L975.2,1027.5 L976.8,1027.6 L978.4,1028.9 L980.0,1025.7 L981.6,1024.6 L983.2,1026.1 L984.8,1028.6 L986.4,1024.1 L988.0,1027.3 L989.6,1026.6 L991.2,1024.4 L992.8,1023.1 L994.4,1021.2 L996.0,1021.9 L997.6,1024.2 L999.2,1025.0 L1000.8,1022.2 L1002.4,1022.0 L1004.0,1021.3 L1005.6,1027.2 L1007.2,1019.6 L1008.8,1019.1 L1010.4,1023.6 L1012.0,1019.1 L1013.6,1022.7 L1015.2,1018.8 L1016.8,1021.9 L1018.4,1022.2 L1020.0,1018.2 L1021.6,1018.6 L1023.2,1016.2 L1024.8,1019.3 L1026.4,1016.5 L1028.0,1014.7 L1029.6,1016.9 L1031.2,1016.2 L1032.8,1014.8 L1034.4,1013.5 L1036.0,1015.6 L1037.6,1011.9 L1039.2,1010.9 L1040.8,1011.4 L1042.4,1012.3 L1044.0,1009.8 L1045.6,1008.6 L1047.2,1007.1 L1048.8,1006.7 L1050.4,1006.2 L1052.0,1010.8 L1053.6,1002.4 L1055.2,1004.3 L1056.8,1004.6 L1058.4,1002.0 L1060.0,1000.6 L1061.6,1003.5 L1063.2,1004.4 L1064.8,1003.2 L1066.4,1000.2 L1068.0,998.4 L1069.6,999.8 L1071.2,994.1 L1072.8,994.7 L1074.4,998.3 L1076.0,994.8 L1077.6,992.8 L1079.2,990.5 L1080.8,988.4 L1082.4,985.6 L1084.0,986.8 L1085.6,984.8 L1087.2,982.9 L1088.8,974.4 L1090.4,980.4 L1092.0,977.2 L1093.6,976.4 L1095.2,969.3 L1096.8,963.1 L1098.4,962.6 L1100.0,960.9 L1101.6,964.8 L1103.2,955.6 L1104.8,953.2 L1106.4,953.5 L1108.0,949.9 L1109.6,946.5 L1111.2,939.0 L1112.8,940.1 L1114.4,931.3 L1116.0,922.1 L1117.6,918.3 L1119.2,907.5 L1120.8,904.1 L1122.4,902.9 L1124.0,898.3 L1125.6,894.9 L1127.2,886.5 L1128.8,878.4 L1130.4,869.4 L1132.0,869.0 L1133.6,857.9 L1135.2,853.5 L1136.8,844.9 L1138.4,837.4 L1140.0,826.8 L1141.6,831.4 L1143.2,820.1 L1144.8,820.7 L1146.4,814.0 L1148.0,807.5 L1149.6,806.2 L1151.2,801.6 L1152.8,795.3 L1154.4,795.0 L1156.0,799.0 L1157.6,795.9 L1159.2,801.4 L1160.8,805.1 L1162.4,797.0 L1164.0,811.5 L1165.6,803.3 L1167.2,816.9 L1168.8,818.0 L1170.4,828.4 L1172.0,842.3 L1173.6,846.7 L1175.2,846.0 L1176.8,852.0 L1178.4,859.9 L1180.0,872.6 L1181.6,877.1 L1183.2,885.1 L1184.8,889.9 L1186.4,898.0 L1188.0,897.5 L1189.6,900.6 L1191.2,908.5 L1192.8,916.8 L1194.4,915.9 L1196.0,916.2 L1197.6,924.4 L1199.2,930.9 L1200.8,934.0 L1202.4,936.6 L1204.0,942.1 L1205.6,944.3 L1207.2,953.9 L1208.8,961.8 L1210.4,959.2 L1212.0,966.8 L1213.6,962.8 L1215.2,967.0 L1216.8,969.0 L1218.4,972.0 L1220.0,969.9 L1221.6,978.2 L1223.2,976.5 L1224.8,973.9 L1226.4,981.4 L1228.0,981.4 L1229.6,979.5 L1231.2,983.0 L1232.8,986.0 L1234.4,986.7 L1236.0,986.8 L1237.6,985.5 L1239.2,988.4 L1240.8,991.5 L1242.4,994.3 L1244.0,991.9 L1245.6,993.2 L1247.2,994.4 L1248.8,992.6 L1250.4,990.3 L1252.0,993.6 L1253.6,995.0 L1255.2,996.5 L1256.8,996.6 L1258.4,995.6 L1260.0,996.6 L1261.6,997.8 L1263.2,997.0 L1264.8,997.5 L1266.4,996.1 L1268.0,999.1 L1269.6,1000.2 L1271.2,998.6 L1272.8,999.3 L1274.4,1000.0 L1276.0,997.5 L1277.6,998.3 L1279.2,997.6 L1280.8,1000.3 L1282.4,996.9 L1284.0,999.2 L1285.6,994.8 L1287.2,1002.4 L1288.8,999.9 L1290.4,996.9 L1292.0,998.4 L1293.6,1002.3 L1295.2,998.5 L1296.8,995.1 L1298.4,998.0 L1300.0,996.9 L1301.6,998.8 L1303.2,998.0 L1304.8,994.1 L1306.4,997.8 L1308.0,999.1 L1309.6,999.8 L1311.2,997.4 L1312.8,1000.3 L1314.4,999.2 L1316.0,997.5 L1317.6,998.8 L1319.2,989.9 L1320.8,997.4 L1322.4,997.3 L1324.0,993.6 L1325.6,995.0 L1327.2,991.3 L1328.8,991.7 L1330.4,991.0 L1332.0,988.4 L1333.6,989.3 L1335.2,985.1 L1336.8,987.6 L1338.4,990.5 L1340.0,989.9 L1341.6,984.6 L1343.2,987.3 L1344.8,983.1 L1346.4,978.1 L1348.0,978.0 L1349.6,977.6 L1351.2,976.0 L1352.8,975.8 L1354.4,971.2 L1356.0,970.4 L1357.6,972.2 L1359.2,968.8 L1360.8,967.8 L1362.4,964.8 L1364.0,963.9 L1365.6,960.4 L1367.2,952.6 L1368.8,952.8 L1370.4,944.5 L1372.0,942.9 L1373.6,937.3 L1375.2,935.7 L1376.8,930.9 L1378.4,927.6 L1380.0,922.4 L1381.6,917.1 L1383.2,912.8 L1384.8,906.8 L1386.4,898.7 L1388.0,890.6 L1389.6,890.9 L1391.2,888.6 L1392.8,878.6 L1394.4,879.4 L1396.0,873.1 L1397.6,872.3 L1399.2,871.3 L1400.8,867.4 L1402.4,863.9 L1404.0,857.8 L1405.6,861.9 L1407.2,861.7 L1408.8,864.9 L1410.4,859.3 L1412.0,861.5 L1413.6,863.5 L1415.2,868.3 L1416.8,863.2 L1418.4,871.1 L1420.0,870.6 L1421.6,870.9 L1423.2,871.0 L1424.8,874.2 L1426.4,881.6 L1428.0,880.6 L1429.6,882.8 L1431.2,888.9 L1432.8,899.2 L1434.4,903.8 L1436.0,908.2 L1437.6,912.9 L1439.2,916.6 L1440.8,918.3 L1442.4,922.0 L1444.0,934.2 L1445.6,938.4 L1447.2,948.2 L1448.8,955.3 L1450.4,964.1 L1452.0,971.5 L1453.6,972.9 L1455.2,979.1 L1456.8,983.4 L1458.4,988.8 L1460.0,991.0 L1461.6,994.6 L1463.2,996.8 L1464.8,1001.9 L1466.4,1004.2 L1468.0,1010.7 L1469.6,1011.9 L1471.2,1017.9 L1472.8,1015.6 L1474.4,1017.0 L1476.0,1022.7 L1477.6,1024.1 L1479.2,1022.1 L1480.8,1031.3 L1482.4,1027.7 L1484.0,1031.6 L1485.6,1030.1 L1487.2,1033.4 L1488.8,1035.3 L1490.4,1033.4 L1492.0,1035.9 L1493.6,1037.8 L1495.2,1040.8 L1496.8,1039.6 L1498.4,1041.1 L1500.0,1040.3 L1501.6,1041.1 L1503.2,1041.5 L1504.8,1040.6 L1506.4,1038.2 L1508.0,1039.0 L1509.6,1043.0 L1511.2,1043.7 L1512.8,1043.3 L1514.4,1042.5 L1516.0,1043.0 L1517.6,1041.9 L1519.2,1046.6 L1520.8,1041.8 L1522.4,1047.9 L1524.0,1044.5 L1525.6,1050.1 L1527.2,1046.7 L1528.8,1045.5 L1530.4,1046.4 L1532.0,1045.6 L1533.6,1049.3 L1535.2,1046.7 L1536.8,1047.3 L1538.4,1045.5 L1540.0,1048.2 L1541.6,1044.7 L1543.2,1046.3 L1544.8,1049.8 L1546.4,1044.1 L1548.0,1048.3 L1549.6,1050.0 L1551.2,1048.3 L1552.8,1050.7 L1554.4,1050.5 L1556.0,1049.2 L1557.6,1045.7 L1559.2,1047.7 L1560.8,1048.1 L1562.4,1050.5 L1564.0,1048.7 L1565.6,1048.5 L1567.2,1046.8 L1568.8,1048.8 L1570.4,1049.7 L1572.0,1045.1 L1573.6,1049.4 L1575.2,1050.3 L1576.8,1049.3 L1578.4,1049.6 L1580.0,1049.0 L1581.6,1051.7 L1583.2,1049.3 L1584.8,1052.4 L1586.4,1051.1 L1588.0,1047.2 L1589.6,1050.1 L1591.2,1051.2 L1592.8,1052.2 L1594.4,1051.0 L1596.0,1050.6 L1597.6,1052.3 L1599.2,1053.7 L1600.8,1047.8 L1602.4,1049.9 L1604.0,1053.9 L1605.6,1051.5 L1607.2,1049.4 L1608.8,1054.1 L1610.4,1054.6 L1612.0,1050.8 L1613.6,1052.5 L1615.2,1051.3 L1616.8,1051.9 L1618.4,1053.0 L1620.0,1050.9 L1621.6,1051.2 L1623.2,1050.8 L1624.8,1048.4 L1626.4,1052.2 L1628.0,1052.9 L1629.6,1051.7 L1631.2,1051.5 L1632.8,1052.9 L1634.4,1050.3 L1636.0,1049.7 L1637.6,1052.3 L1639.2,1051.8 L1640.8,1054.6 L1642.4,1049.1 L1644.0,1051.5 L1645.6,1049.5 L1647.2,1055.3 L1648.8,1051.0 L1650.4,1053.0 L1652.0,1047.8 L1653.6,1050.0 L1655.2,1053.0 L1656.8,1051.0 L1658.4,1050.7 L1660.0,1052.9 L1661.6,1052.0 L1663.2,1052.0 L1664.8,1052.2 L1666.4,1051.0 L1668.0,1054.5 L1669.6,1053.6 L1671.2,1051.6 L1672.8,1051.2 L1674.4,1048.6 L1676.0,1049.9 L1677.6,1054.1 L1679.2,1049.8 L1680.8,1051.1 L1682.4,1054.7 L1684.0,1053.7 L1685.6,1052.4 L1687.2,1052.6 L1688.8,1051.3 L1690.4,1052.2 L1692.0,1051.9 L1693.6,1054.2 L1695.2,1053.2 L1696.8,1050.6 L1698.4,1054.3 L1700.0,1053.4 L1701.6,1053.8 L1703.2,1054.1 L1704.8,1053.3 L1706.4,1052.3 L1708.0,1054.2 L1709.6,1054.0 L1711.2,1051.6 L1712.8,1051.7 L1714.4,1052.5 L1716.0,1052.9 L1717.6,1051.9 L1719.2,1049.6 L1720.8,1054.1 L1722.4,1050.9 L1724.0,1050.0 L1725.6,1050.5 L1727.2,1052.1 L1728.8,1051.6 L1730.4,1048.0 L1732.0,1049.3 L1733.6,1049.2 L1735.2,1050.6 L1736.8,1052.1 L1738.4,1050.8 L1740.0,1055.3 L1741.6,1053.4 L1743.2,1054.4 L1744.8,1053.2 L1746.4,1049.8 L1748.0,1052.8 L1749.6,1049.4 L1751.2,1050.2 L1752.8,1052.4 L1754.4,1052.1 L1756.0,1053.1 L1757.6,1051.6 L1759.2,1053.9 L1760.8,1053.4 L1762.4,1052.7 L1764.0,1050.8 L1765.6,1051.1 L1767.2,1053.9 L1768.8,1057.0 L1770.4,1051.3 L1772.0,1052.4 L1773.6,1050.6 L1775.2,1047.9 L1776.8,1053.2 L1778.4,1052.4 L1780.0,1053.3 L1781.6,1051.0 L1783.2,1050.7 L1784.8,1054.7 L1786.4,1050.5 L1788.0,1053.3 L1789.6,1053.7 L1791.2,1052.1 L1792.8,1051.1 L1794.4,1052.5 L1796.0,1049.1 L1797.6,1051.6 L1799.2,1051.4 L1800.8,1049.7 L1802.4,1051.6 L1804.0,1053.6 L1805.6,1056.1 L1807.2,1050.2 L1808.8,1052.9 L1810.4,1052.8 L1812.0,1051.6 L1813.6,1051.1 L1815.2,1053.0 L1816.8,1053.4 L1818.4,1049.7 L1820.0,1054.7 L1821.6,1051.9 L1823.2,1052.3 L1824.8,1051.2 L1826.4,1054.3 L1828.0,1049.9 L1829.6,1051.3 L1831.2,1052.4 L1832.8,1050.6 L1834.4,1051.7 L1836.0,1053.0 L1837.6,1054.2 L1839.2,1051.9 L1840.8,1051.4 L1842.4,1053.0 L1844.0,1052.4 L1845.6,1050.4 L1847.2,1053.7 L1848.8,1051.7 L1850.4,1050.7 L1852.0,1053.9 L1853.6,1053.2 L1855.2,1050.9 L1856.8,1053.4 L1858.4,1051.0 L1860.0,1051.3 L1861.6,1050.5 L1863.2,1053.7 L1864.8,1052.0 L1866.4,1053.2 L1868.0,1050.0 L1869.6,1051.5 L1871.2,1049.3 L1872.8,1051.1 L1874.4,1051.5 L1876.0,1051.8 L1877.6,1049.5 L1879.2,1054.0 L1880.8,1049.4 L1882.4,1054.2 L1884.0,1052.0 L1885.6,1054.0 L1887.2,1050.4 L1888.8,1052.4 L1890.4,1053.2 L1892.0,1056.0 L1893.6,1053.0 L1895.2,1055.3 L1896.8,1052.9 L1898.4,1054.8 L1900.0,1052.4 L1901.6,1052.6 L1903.2,1054.1 L1904.8,1050.3 L1906.4,1049.7 L1908.0,1052.8 L1909.6,1056.2 L1911.2,1055.1 L1912.8,1052.8 L1914.4,1053.7 L1916.0,1053.0 L1917.6,1053.3 L1919.2,1055.1 L1920.8,1050.7 L1922.4,1050.6 L1924.0,1049.4 L1925.6,1051.2 L1927.2,1054.5 L1928.8,1052.6 L1930.4,1050.4 L1932.0,1051.6 L1933.6,1051.9 L1935.2,1054.5 L1936.8,1053.5 L1938.4,1053.4 L1940.0,1054.8 L1941.6,1053.7 L1943.2,1054.6 L1944.8,1051.4 L1946.4,1051.1 L1948.0,1052.1 L1949.6,1056.3 L1951.2,1050.8 L1952.8,1053.1 L1954.4,1053.7 L1956.0,1051.1 L1957.6,1050.6 L1959.2,1056.3 L1960.8,1052.5 L1962.4,1052.1 L1964.0,1053.4 L1965.6,1052.9 L1967.2,1050.2 L1968.8,1049.7 L1970.4,1052.3 L1972.0,1051.3 L1973.6,1052.6 L1975.2,1050.6 L1976.8,1057.1 L1978.4,1053.5 L1980.0,1056.1 L1981.6,1051.9 L1983.2,1052.5 L1984.8,1051.9 L1986.4,1052.9 L1988.0,1053.5 L1989.6,1051.9 L1991.2,1051.0 L1992.8,1051.6 L1994.4,1052.4 L1996.0,1054.2 L1997.6,1050.0 L1999.2,1051.3 L2000.8,1053.4 L2002.4,1055.0 L2004.0,1051.9 L2005.6,1053.1 L2007.2,1052.2 L2008.8,1052.1 L2010.4,1052.8 L2012.0,1051.6 L2013.6,1052.1 L2015.2,1052.0 L2016.8,1055.2 L2018.4,1052.4 L2020.0,1055.3 L2021.6,1052.2 L2023.2,1052.7 L2024.8,1051.0 L2026.4,1052.7 L2028.0,1054.8 L2029.6,1055.1 L2031.2,1050.5 L2032.8,1056.6 L2034.4,1052.9 L2036.0,1053.2 L2037.6,1054.0 L2039.2,1052.3 L2040.8,1050.8 L2042.4,1052.3 L2044.0,1051.6 L2045.6,1055.5 L2047.2,1052.2 L2048.8,1048.3 L2050.4,1054.4 L2052.0,1053.1 L2053.6,1052.0 L2055.2,1048.8 L2056.8,1057.6 L2058.4,1051.4 L2060.0,1051.4 L2061.6,1051.0 L2063.2,1052.2 L2064.8,1051.8 L2066.4,1052.4 L2068.0,1052.7 L2069.6,1051.9 L2071.2,1053.7 L2072.8,1050.0 L2074.4,1053.4 L2076.0,1052.4 L2077.6,1051.8 L2079.2,1052.9 L2080.8,1052.1 L2082.4,1052.0 L2084.0,1050.8 L2085.6,1050.1 L2087.2,1049.0 L2088.8,1049.4 L2090.4,1050.4 L2092.0,1052.8 L2093.6,1051.0 L2095.2,1051.6 L2096.8,1049.5 L2098.4,1048.7 L2100.0,1051.4 L2101.6,1055.3 L2103.2,1049.3 L2104.8,1053.5 L2106.4,1049.1 L2108.0,1049.0 L2109.6,1049.5 L2111.2,1049.6 L2112.8,1052.4 L2114.4,1051.3 L2116.0,1051.0 L2117.6,1050.0 L2119.2,1052.4 L2120.8,1053.9 L2122.4,1051.3 L2124.0,1050.1 L2125.6,1049.0 L2127.2,1050.2 L2128.8,1048.6 L2130.4,1053.0 L2132.0,1049.4 L2133.6,1052.7 L2135.2,1048.6 L2136.8,1052.1 L2138.4,1051.6 L2140.0,1051.9 L2141.6,1051.1 L2143.2,1048.8 L2144.8,1055.2 L2146.4,1048.1 L2148.0,1052.4 L2149.6,1050.1 L2151.2,1048.5 L2152.8,1051.7 L2154.4,1052.8 L2156.0,1052.0 L2157.6,1048.0 L2159.2,1048.9 L2160.8,1051.1 L2162.4,1050.8 L2164.0,1051.7 L2165.6,1049.7 L2167.2,1046.9 L2168.8,1047.8 L2170.4,1050.3 L2172.0,1048.0 L2173.6,1047.3 L2175.2,1050.7 L2176.8,1052.0 L2178.4,1048.5 L2180.0,1049.2 L2181.6,1049.3 L2183.2,1051.1 L2184.8,1049.0 L2186.4,1048.9 L2188.0,1049.3 L2189.6,1047.2 L2191.2,1051.5 L2192.8,1051.9 L2194.4,1049.3 L2196.0,1049.4 L2197.6,1049.5 L2199.2,1049.1 L2200.8,1047.8 L2202.4,1050.2 L2204.0,1050.2 L2205.6,1050.7 L2207.2,1047.2 L2208.8,1049.1 L2210.4,1046.5 L2212.0,1051.9 L2213.6,1046.1 L2215.2,1048.4 L2216.8,1051.3 L2218.4,1045.5 L2220.0,1048.7 L2221.6,1045.5 L2223.2,1050.0 L2224.8,1047.7 L2226.4,1047.3 L2228.0,1046.6 L2229.6,1049.1 L2231.2,1048.4 L2232.8,1049.3 L2234.4,1049.5 L2236.0,1047.1 L2237.6,1048.5 L2239.2,1050.3 L2240.8,1048.9 L2242.4,1048.7 L2244.0,1048.1 L2245.6,1047.2"/>
<path stroke="#1A6FDF" d="M170.4,763.9 L172.0,764.2 L173.6,764.0 L175.2,765.2 L176.8,768.9 L178.4,763.6 L180.0,768.1 L181.6,768.7 L183.2,765.9 L184.8,765.3 L186.4,767.4 L188.0,768.7 L189.6,770.4 L191.2,768.2 L192.8,769.5 L194.4,766.0 L196.0,765.2 L197.6,763.8 L199.2,764.8 L200.8,766.2 L202.4,767.2 L204.0,764.6 L205.6,768.4 L207.2,766.8 L208.8,765.9 L210.4,765.7 L212.0,770.6 L213.6,767.4 L215.2,765.6 L216.8,765.5 L218.4,770.4 L220.0,766.2 L221.6,769.4 L223.2,769.8 L224.8,763.3 L226.4,769.7 L228.0,767.0 L229.6,765.5 L231.2,766.5 L232.8,768.4 L234.4,768.1 L236.0,768.3 L237.6,766.3 L239.2,769.8 L240.8,770.2 L242.4,770.8 L244.0,769.4 L245.6,771.0 L247.2,771.4 L248.8,768.9 L250.4,769.3 L252.0,768.8 L253.6,768.7 L255.2,769.3 L256.8,764.8 L258.4,767.3 L260.0,768.7 L261.6,764.2 L263.2,765.4 L264.8,770.7 L266.4,766.1 L268.0,767.1 L269.6,768.6 L271.2,767.1 L272.8,766.5 L274.4,767.1 L276.0,767.3 L277.6,767.0 L279.2,768.4 L280.8,770.9 L282.4,768.7 L284.0,770.9 L285.6,769.4 L287.2,769.6 L288.8,769.1 L290.4,767.6 L292.0,768.9 L293.6,768.7 L295.2,766.2 L296.8,769.5 L298.4,769.2 L300.0,768.8 L301.6,767.2 L303.2,763.6 L304.8,770.8 L306.4,768.1 L308.0,764.4 L309.6,769.3 L311.2,767.0 L312.8,769.4 L314.4,768.0 L316.0,770.2 L317.6,768.6 L319.2,768.7 L320.8,768.5 L322.4,770.4 L324.0,765.9 L325.6,770.3 L327.2,769.4 L328.8,767.2 L330.4,768.2 L332.0,767.4 L333.6,768.3 L335.2,769.8 L336.8,767.0 L338.4,769.5 L340.0,769.8 L341.6,769.3 L343.2,770.9 L344.8,768.0 L346.4,769.4 L348.0,772.5 L349.6,768.2 L351.2,767.9 L352.8,768.1 L354.4,769.2 L356.0,767.0 L357.6,767.7 L359.2,765.0 L360.8,766.3 L362.4,766.3 L364.0,766.1 L365.6,767.3 L367.2,769.3 L368.8,767.4 L370.4,765.7 L372.0,768.5 L373.6,768.3 L375.2,765.6 L376.8,768.3 L378.4,766.1 L380.0,766.9 L381.6,766.7 L383.2,769.4 L384.8,766.5 L386.4,767.4 L388.0,768.3 L389.6,769.8 L391.2,770.0 L392.8,766.2 L394.4,770.0 L396.0,768.4 L397.6,770.0 L399.2,769.7 L400.8,767.0 L402.4,768.0 L404.0,767.4 L405.6,768.5 L407.2,770.7 L408.8,767.9 L410.4,766.7 L412.0,772.3 L413.6,766.1 L415.2,767.8 L416.8,767.8 L418.4,765.6 L420.0,769.2 L421.6,769.6 L423.2,767.6 L424.8,767.8 L426.4,767.4 L428.0,764.6 L429.6,768.1 L431.2,765.5 L432.8,766.0 L434.4,768.4 L436.0,769.3 L437.6,766.1 L439.2,769.6 L440.8,770.7 L442.4,767.9 L444.0,767.5 L445.6,768.0 L447.2,766.9 L448.8,766.1 L450.4,768.7 L452.0,768.8 L453.6,766.7 L455.2,766.8 L456.8,766.4 L458.4,766.3 L460.0,765.8 L461.6,764.9 L463.2,769.1 L464.8,766.9 L466.4,767.6 L468.0,770.6 L469.6,766.6 L471.2,768.4 L472.8,765.0 L474.4,766.3 L476.0,768.6 L477.6,766.9 L479.2,764.8 L480.8,764.7 L482.4,767.9 L484.0,765.7 L485.6,768.5 L487.2,767.7 L488.8,766.7 L490.4,767.1 L492.0,768.5 L493.6,767.2 L495.2,765.5 L496.8,767.7 L498.4,766.5 L500.0,766.7 L501.6,768.1 L503.2,767.7 L504.8,768.8 L506.4,766.7 L508.0,766.2 L509.6,766.4 L511.2,767.6 L512.8,765.6 L514.4,766.3 L516.0,765.5 L517.6,765.6 L519.2,766.6 L520.8,771.0 L522.4,766.2 L524.0,767.3 L525.6,767.0 L527.2,766.5 L528.8,766.8 L530.4,770.1 L532.0,766.3 L533.6,769.5 L535.2,767.8 L536.8,765.2 L538.4,765.6 L540.0,765.9 L541.6,764.8 L543.2,768.6 L544.8,767.3 L546.4,767.5 L548.0,764.8 L549.6,767.3 L551.2,765.6 L552.8,770.6 L554.4,766.3 L556.0,766.9 L557.6,767.1 L559.2,765.6 L560.8,765.7 L562.4,765.7 L564.0,767.8 L565.6,765.1 L567.2,766.0 L568.8,766.8 L570.4,765.5 L572.0,763.9 L573.6,764.2 L575.2,765.5 L576.8,764.5 L578.4,767.8 L580.0,766.1 L581.6,766.0 L583.2,764.3 L584.8,766.9 L586.4,765.4 L588.0,764.4 L589.6,764.9 L591.2,770.0 L592.8,764.9 L594.4,764.4 L596.0,767.9 L597.6,767.1 L599.2,765.4 L600.8,768.2 L602.4,763.3 L604.0,765.0 L605.6,763.0 L607.2,768.1 L608.8,765.8 L610.4,770.1 L612.0,766.5 L613.6,766.5 L615.2,763.7 L616.8,763.6 L618.4,764.8 L620.0,767.1 L621.6,763.8 L623.2,761.5 L624.8,766.9 L626.4,767.0 L628.0,763.9 L629.6,766.2 L631.2,767.3 L632.8,767.4 L634.4,762.7 L636.0,765.4 L637.6,764.0 L639.2,766.9 L640.8,765.4 L642.4,763.2 L644.0,765.4 L645.6,766.2 L647.2,762.5 L648.8,762.8 L650.4,763.9 L652.0,764.6 L653.6,764.1 L655.2,761.9 L656.8,762.3 L658.4,764.9 L660.0,765.7 L661.6,763.4 L663.2,765.2 L664.8,768.1 L666.4,764.5 L668.0,764.1 L669.6,763.7 L671.2,765.7 L672.8,765.2 L674.4,765.3 L676.0,764.2 L677.6,765.5 L679.2,765.5 L680.8,764.5 L682.4,766.7 L684.0,762.1 L685.6,765.9 L687.2,764.5 L688.8,766.1 L690.4,767.9 L692.0,764.7 L693.6,764.3 L695.2,764.6 L696.8,767.0 L698.4,767.2 L700.0,764.8 L701.6,765.6 L703.2,767.6 L704.8,765.4 L706.4,761.9 L708.0,763.0 L709.6,763.6 L711.2,765.1 L712.8,763.4 L714.4,766.7 L716.0,763.5 L717.6,767.0 L719.2,763.1 L720.8,766.6 L722.4,764.5 L724.0,766.6 L725.6,767.5 L727.2,767.2 L728.8,765.9 L730.4,762.8 L732.0,762.7 L733.6,758.5 L735.2,766.5 L736.8,766.1 L738.4,765.7 L740.0,761.9 L741.6,768.6 L743.2,762.7 L744.8,765.3 L746.4,760.9 L748.0,762.6 L749.6,765.8 L751.2,765.4 L752.8,761.7 L754.4,763.3 L756.0,765.4 L757.6,760.2 L759.2,764.7 L760.8,760.6 L762.4,764.3 L764.0,762.7 L765.6,764.7 L767.2,762.1 L768.8,762.2 L770.4,762.1 L772.0,761.0 L773.6,762.0 L775.2,760.6 L776.8,761.3 L778.4,763.3 L780.0,761.4 L781.6,763.7 L783.2,763.0 L784.8,763.1 L786.4,759.5 L788.0,762.1 L789.6,763.7 L791.2,762.7 L792.8,763.1 L794.4,763.5 L796.0,758.0 L797.6,761.5 L799.2,761.4 L800.8,759.9 L802.4,757.8 L804.0,760.3 L805.6,759.6 L807.2,763.1 L808.8,761.9 L810.4,758.7 L812.0,757.5 L813.6,757.7 L815.2,758.9 L816.8,757.6 L818.4,762.2 L820.0,756.5 L821.6,758.3 L823.2,758.6 L824.8,758.9 L826.4,756.4 L828.0,757.5 L829.6,758.0 L831.2,758.1 L832.8,756.3 L834.4,756.7 L836.0,757.4 L837.6,760.2 L839.2,754.6 L840.8,757.7 L842.4,759.1 L844.0,753.7 L845.6,758.5 L847.2,758.3 L848.8,755.7 L850.4,757.1 L852.0,757.8 L853.6,754.7 L855.2,755.2 L856.8,752.6 L858.4,753.0 L860.0,754.1 L861.6,753.6 L863.2,756.3 L864.8,752.8 L866.4,750.7 L868.0,754.2 L869.6,753.9 L871.2,752.7 L872.8,751.4 L874.4,750.0 L876.0,749.9 L877.6,753.5 L879.2,751.9 L880.8,750.4 L882.4,750.6 L884.0,749.0 L885.6,747.7 L887.2,748.2 L888.8,748.7 L890.4,745.6 L892.0,745.7 L893.6,744.9 L895.2,747.0 L896.8,748.7 L898.4,745.0 L900.0,745.1 L901.6,744.0 L903.2,745.9 L904.8,744.4 L906.4,744.5 L908.0,744.1 L909.6,750.0 L911.2,745.6 L912.8,744.4 L914.4,744.6 L916.0,746.8 L917.6,746.8 L919.2,745.3 L920.8,741.1 L922.4,746.3 L924.0,746.2 L925.6,745.5 L927.2,744.8 L928.8,743.9 L930.4,745.8 L932.0,742.8 L933.6,745.1 L935.2,742.1 L936.8,742.1 L938.4,741.8 L940.0,741.4 L941.6,741.3 L943.2,743.4 L944.8,744.7 L946.4,740.4 L948.0,739.6 L949.6,743.6 L951.2,740.5 L952.8,741.4 L954.4,741.0 L956.0,742.2 L957.6,738.7 L959.2,742.2 L960.8,741.4 L962.4,735.7 L964.0,739.2 L965.6,738.6 L967.2,739.8 L968.8,738.7 L970.4,737.2 L972.0,737.7 L973.6,738.7 L975.2,737.9 L976.8,737.3 L978.4,741.5 L980.0,738.1 L981.6,734.8 L983.2,736.8 L984.8,736.9 L986.4,734.2 L988.0,736.0 L989.6,733.9 L991.2,731.0 L992.8,735.5 L994.4,735.8 L996.0,735.4 L997.6,733.7 L999.2,732.5 L1000.8,733.7 L1002.4,733.8 L1004.0,734.3 L1005.6,734.8 L1007.2,733.4 L1008.8,730.4 L1010.4,731.0 L1012.0,728.1 L1013.6,731.7 L1015.2,731.0 L1016.8,731.7 L1018.4,730.0 L1020.0,731.6 L1021.6,726.8 L1023.2,728.3 L1024.8,726.7 L1026.4,726.2 L1028.0,722.8 L1029.6,724.2 L1031.2,721.2 L1032.8,723.8 L1034.4,722.5 L1036.0,723.5 L1037.6,719.2 L1039.2,721.0 L1040.8,720.9 L1042.4,716.2 L1044.0,723.2 L1045.6,720.2 L1047.2,717.1 L1048.8,721.5 L1050.4,719.6 L1052.0,711.3 L1053.6,714.6 L1055.2,713.0 L1056.8,713.3 L1058.4,710.2 L1060.0,710.5 L1061.6,710.0 L1063.2,703.7 L1064.8,707.7 L1066.4,709.0 L1068.0,705.1 L1069.6,705.9 L1071.2,705.3 L1072.8,701.2 L1074.4,699.8 L1076.0,698.2 L1077.6,694.8 L1079.2,698.6 L1080.8,693.0 L1082.4,691.3 L1084.0,690.1 L1085.6,688.9 L1087.2,680.6 L1088.8,678.8 L1090.4,678.7 L1092.0,677.0 L1093.6,670.6 L1095.2,667.6 L1096.8,669.7 L1098.4,666.9 L1100.0,661.8 L1101.6,658.8 L1103.2,655.0 L1104.8,650.6 L1106.4,647.7 L1108.0,645.9 L1109.6,639.9 L1111.2,636.9 L1112.8,625.3 L1114.4,617.9 L1116.0,617.0 L1117.6,607.2 L1119.2,602.8 L1120.8,598.0 L1122.4,589.4 L1124.0,583.6 L1125.6,581.5 L1127.2,562.8 L1128.8,559.9 L1130.4,543.0 L1132.0,541.2 L1133.6,531.6 L1135.2,523.5 L1136.8,515.1 L1138.4,502.6 L1140.0,488.1 L1141.6,488.2 L1143.2,480.9 L1144.8,476.8 L1146.4,469.4 L1148.0,463.6 L1149.6,462.7 L1151.2,458.3 L1152.8,451.9 L1154.4,444.3 L1156.0,444.0 L1157.6,443.7 L1159.2,451.0 L1160.8,449.3 L1162.4,449.0 L1164.0,453.1 L1165.6,462.2 L1167.2,475.6 L1168.8,475.9 L1170.4,483.9 L1172.0,499.9 L1173.6,510.4 L1175.2,517.2 L1176.8,521.5 L1178.4,529.3 L1180.0,543.3 L1181.6,550.1 L1183.2,561.8 L1184.8,565.6 L1186.4,575.4 L1188.0,580.8 L1189.6,594.6 L1191.2,592.7 L1192.8,604.9 L1194.4,613.3 L1196.0,612.4 L1197.6,616.3 L1199.2,622.1 L1200.8,626.0 L1202.4,635.3 L1204.0,639.5 L1205.6,642.8 L1207.2,649.0 L1208.8,657.6 L1210.4,657.7 L1212.0,660.7 L1213.6,668.5 L1215.2,664.5 L1216.8,667.5 L1218.4,673.6 L1220.0,672.2 L1221.6,669.5 L1223.2,673.3 L1224.8,671.7 L1226.4,676.6 L1228.0,680.2 L1229.6,677.6 L1231.2,686.2 L1232.8,687.5 L1234.4,688.4 L1236.0,686.9 L1237.6,690.0 L1239.2,692.4 L1240.8,694.4 L1242.4,696.1 L1244.0,689.9 L1245.6,693.8 L1247.2,693.8 L1248.8,696.3 L1250.4,698.1 L1252.0,703.1 L1253.6,698.8 L1255.2,701.5 L1256.8,700.4 L1258.4,700.7 L1260.0,704.9 L1261.6,699.5 L1263.2,703.7 L1264.8,706.9 L1266.4,710.0 L1268.0,702.3 L1269.6,701.7 L1271.2,701.2 L1272.8,703.2 L1274.4,704.2 L1276.0,704.5 L1277.6,706.9 L1279.2,704.1 L1280.8,705.4 L1282.4,701.5 L1284.0,703.5 L1285.6,704.5 L1287.2,700.0 L1288.8,705.1 L1290.4,706.6 L1292.0,705.0 L1293.6,705.2 L1295.2,704.6 L1296.8,701.8 L1298.4,703.8 L1300.0,701.9 L1301.6,702.6 L1303.2,702.0 L1304.8,701.7 L1306.4,698.4 L1308.0,700.7 L1309.6,704.2 L1311.2,702.3 L1312.8,699.7 L1314.4,698.4 L1316.0,701.7 L1317.6,699.3 L1319.2,695.3 L1320.8,697.6 L1322.4,701.5 L1324.0,693.9 L1325.6,696.8 L1327.2,694.3 L1328.8,694.9 L1330.4,693.3 L1332.0,691.4 L1333.6,686.7 L1335.2,690.6 L1336.8,689.9 L1338.4,688.2 L1340.0,684.9 L1341.6,684.3 L1343.2,688.7 L1344.8,679.6 L1346.4,679.2 L1348.0,675.2 L1349.6,675.7 L1351.2,675.2 L1352.8,675.9 L1354.4,672.2 L1356.0,669.8 L1357.6,668.0 L1359.2,665.1 L1360.8,659.8 L1362.4,655.7 L1364.0,654.2 L1365.6,645.0 L1367.2,641.8 L1368.8,635.5 L1370.4,632.2 L1372.0,632.0 L1373.6,619.9 L1375.2,614.9 L1376.8,612.1 L1378.4,602.2 L1380.0,594.6 L1381.6,586.8 L1383.2,575.5 L1384.8,572.6 L1386.4,565.0 L1388.0,561.9 L1389.6,553.4 L1391.2,541.4 L1392.8,541.7 L1394.4,534.3 L1396.0,539.0 L1397.6,536.2 L1399.2,532.6 L1400.8,528.5 L1402.4,534.0 L1404.0,530.7 L1405.6,531.0 L1407.2,528.7 L1408.8,526.3 L1410.4,530.3 L1412.0,528.1 L1413.6,536.5 L1415.2,538.8 L1416.8,537.2 L1418.4,546.5 L1420.0,548.1 L1421.6,550.3 L1423.2,554.5 L1424.8,560.6 L1426.4,559.2 L1428.0,563.5 L1429.6,572.7 L1431.2,575.5 L1432.8,574.6 L1434.4,583.7 L1436.0,583.5 L1437.6,595.4 L1439.2,601.4 L1440.8,609.7 L1442.4,612.5 L1444.0,622.3 L1445.6,634.0 L1447.2,636.0 L1448.8,647.5 L1450.4,652.5 L1452.0,659.8 L1453.6,664.0 L1455.2,674.0 L1456.8,681.3 L1458.4,689.4 L1460.0,698.4 L1461.6,697.3 L1463.2,702.2 L1464.8,704.4 L1466.4,714.5 L1468.0,714.2 L1469.6,719.6 L1471.2,718.6 L1472.8,722.8 L1474.4,726.7 L1476.0,728.5 L1477.6,728.9 L1479.2,732.9 L1480.8,733.0 L1482.4,736.3 L1484.0,735.2 L1485.6,738.3 L1487.2,737.5 L1488.8,742.1 L1490.4,741.0 L1492.0,742.2 L1493.6,742.2 L1495.2,746.1 L1496.8,745.4 L1498.4,745.6 L1500.0,749.2 L1501.6,746.2 L1503.2,750.2 L1504.8,751.9 L1506.4,746.7 L1508.0,752.1 L1509.6,752.1 L1511.2,752.0 L1512.8,752.8 L1514.4,750.4 L1516.0,753.9 L1517.6,753.7 L1519.2,751.0 L1520.8,753.5 L1522.4,752.0 L1524.0,754.5 L1525.6,753.0 L1527.2,755.0 L1528.8,752.4 L1530.4,754.2 L1532.0,754.6 L1533.6,755.1 L1535.2,757.7 L1536.8,759.7 L1538.4,753.3 L1540.0,757.7 L1541.6,755.9 L1543.2,756.1 L1544.8,756.2 L1546.4,756.7 L1548.0,757.1 L1549.6,758.9 L1551.2,760.0 L1552.8,758.6 L1554.4,758.4 L1556.0,759.5 L1557.6,759.5 L1559.2,762.3 L1560.8,757.7 L1562.4,757.1 L1564.0,759.3 L1565.6,760.5 L1567.2,759.8 L1568.8,760.7 L1570.4,756.0 L1572.0,759.2 L1573.6,759.5 L1575.2,758.4 L1576.8,759.7 L1578.4,760.4 L1580.0,761.5 L1581.6,759.3 L1583.2,758.1 L1584.8,761.7 L1586.4,764.4 L1588.0,761.4 L1589.6,761.4 L1591.2,759.5 L1592.8,761.6 L1594.4,764.0 L1596.0,757.9 L1597.6,763.1 L1599.2,758.0 L1600.8,764.0 L1602.4,762.9 L1604.0,760.9 L1605.6,762.0 L1607.2,764.4 L1608.8,759.7 L1610.4,763.6 L1612.0,762.6 L1613.6,761.6 L1615.2,764.1 L1616.8,758.8 L1618.4,761.4 L1620.0,759.5 L1621.6,761.5 L1623.2,762.5 L1624.8,758.8 L1626.4,762.1 L1628.0,762.1 L1629.6,760.6 L1631.2,761.5 L1632.8,763.5 L1634.4,762.2 L1636.0,764.4 L1637.6,759.8 L1639.2,759.4 L1640.8,763.7 L1642.4,759.3 L1644.0,763.7 L1645.6,761.6 L1647.2,762.8 L1648.8,761.0 L1650.4,763.4 L1652.0,763.9 L1653.6,763.7 L1655.2,762.5 L1656.8,759.4 L1658.4,763.3 L1660.0,761.8 L1661.6,763.9 L1663.2,759.1 L1664.8,762.4 L1666.4,760.9 L1668.0,761.6 L1669.6,763.2 L1671.2,763.1 L1672.8,764.1 L1674.4,762.5 L1676.0,762.6 L1677.6,762.3 L1679.2,759.7 L1680.8,763.6 L1682.4,760.3 L1684.0,760.8 L1685.6,762.5 L1687.2,760.6 L1688.8,760.9 L1690.4,757.4 L1692.0,760.2 L1693.6,759.8 L1695.2,760.6 L1696.8,762.6 L1698.4,761.2 L1700.0,761.4 L1701.6,761.8 L1703.2,763.4 L1704.8,763.5 L1706.4,762.4 L1708.0,761.3 L1709.6,763.2 L1711.2,761.2 L1712.8,761.4 L1714.4,762.2 L1716.0,760.9 L1717.6,759.8 L1719.2,759.6 L1720.8,761.2 L1722.4,762.1 L1724.0,762.8 L1725.6,760.4 L1727.2,762.1 L1728.8,761.8 L1730.4,761.0 L1732.0,766.1 L1733.6,760.5 L1735.2,760.4 L1736.8,762.0 L1738.4,764.4 L1740.0,761.2 L1741.6,764.1 L1743.2,760.1 L1744.8,761.2 L1746.4,761.5 L1748.0,761.4 L1749.6,761.9 L1751.2,761.7 L1752.8,761.5 L1754.4,760.2 L1756.0,762.7 L1757.6,762.0 L1759.2,762.3 L1760.8,763.9 L1762.4,762.8 L1764.0,762.4 L1765.6,764.3 L1767.2,761.2 L1768.8,759.3 L1770.4,761.0 L1772.0,759.9 L1773.6,761.6 L1775.2,761.6 L1776.8,761.9 L1778.4,762.5 L1780.0,763.1 L1781.6,762.8 L1783.2,762.4 L1784.8,761.6 L1786.4,761.3 L1788.0,762.1 L1789.6,761.7 L1791.2,760.4 L1792.8,761.5 L1794.4,763.4 L1796.0,762.3 L1797.6,760.9 L1799.2,762.7 L1800.8,763.4 L1802.4,760.6 L1804.0,765.1 L1805.6,764.3 L1807.2,762.2 L1808.8,764.3 L1810.4,762.9 L1812.0,763.6 L1813.6,761.1 L1815.2,761.7 L1816.8,762.2 L1818.4,762.4 L1820.0,761.7 L1821.6,759.9 L1823.2,760.7 L1824.8,763.2 L1826.4,761.9 L1828.0,765.3 L1829.6,764.7 L1831.2,762.1 L1832.8,762.8 L1834.4,759.5 L1836.0,763.6 L1837.6,764.3 L1839.2,761.2 L1840.8,761.2 L1842.4,761.5 L1844.0,763.7 L1845.6,764.2 L1847.2,760.8 L1848.8,761.8 L1850.4,763.3 L1852.0,762.8 L1853.6,762.0 L1855.2,763.3 L1856.8,761.0 L1858.4,760.0 L1860.0,763.4 L1861.6,763.6 L1863.2,764.6 L1864.8,761.9 L1866.4,761.1 L1868.0,762.5 L1869.6,762.3 L1871.2,762.5 L1872.8,762.3 L1874.4,764.6 L1876.0,762.9 L1877.6,764.6 L1879.2,761.3 L1880.8,760.8 L1882.4,763.9 L1884.0,760.4 L1885.6,760.5 L1887.2,760.5 L1888.8,759.3 L1890.4,763.1 L1892.0,765.1 L1893.6,763.2 L1895.2,763.7 L1896.8,761.7 L1898.4,760.7 L1900.0,763.2 L1901.6,760.4 L1903.2,759.8 L1904.8,760.8 L1906.4,764.0 L1908.0,762.8 L1909.6,761.8 L1911.2,760.4 L1912.8,760.6 L1914.4,762.7 L1916.0,762.0 L1917.6,760.9 L1919.2,764.0 L1920.8,761.0 L1922.4,759.5 L1924.0,761.7 L1925.6,763.8 L1927.2,763.2 L1928.8,763.6 L1930.4,760.7 L1932.0,762.7 L1933.6,762.2 L1935.2,761.6 L1936.8,760.1 L1938.4,764.0 L1940.0,762.1 L1941.6,761.0 L1943.2,763.2 L1944.8,766.1 L1946.4,759.4 L1948.0,762.3 L1949.6,764.9 L1951.2,764.9 L1952.8,760.1 L1954.4,761.0 L1956.0,758.4 L1957.6,761.7 L1959.2,759.2 L1960.8,760.0 L1962.4,764.0 L1964.0,759.7 L1965.6,758.7 L1967.2,761.7 L1968.8,762.0 L1970.4,762.1 L1972.0,763.7 L1973.6,760.6 L1975.2,761.5 L1976.8,762.8 L1978.4,761.0 L1980.0,764.1 L1981.6,763.4 L1983.2,761.8 L1984.8,761.4 L1986.4,761.8 L1988.0,762.3 L1989.6,758.4 L1991.2,759.5 L1992.8,760.4 L1994.4,760.2 L1996.0,760.6 L1997.6,760.6 L1999.2,761.7 L2000.8,761.0 L2002.4,762.1 L2004.0,762.1 L2005.6,761.4 L2007.2,760.8 L2008.8,760.2 L2010.4,762.8 L2012.0,760.7 L2013.6,761.8 L2015.2,762.7 L2016.8,761.7 L2018.4,758.7 L2020.0,760.0 L2021.6,764.6 L2023.2,758.5 L2024.8,763.3 L2026.4,759.4 L2028.0,761.3 L2029.6,762.9 L2031.2,759.4 L2032.8,762.8 L2034.4,757.4 L2036.0,760.8 L2037.6,759.9 L2039.2,761.7 L2040.8,762.3 L2042.4,762.9 L2044.0,762.8 L2045.6,760.2 L2047.2,759.4 L2048.8,761.6 L2050.4,760.0 L2052.0,757.3 L2053.6,757.1 L2055.2,760.1 L2056.8,760.0 L2058.4,760.8 L2060.0,761.0 L2061.6,758.0 L2063.2,761.1 L2064.8,758.7 L2066.4,761.3 L2068.0,760.5 L2069.6,763.2 L2071.2,761.2 L2072.8,759.6 L2074.4,760.1 L2076.0,760.6 L2077.6,761.5 L2079.2,761.8 L2080.8,759.0 L2082.4,758.8 L2084.0,761.7 L2085.6,760.5 L2087.2,762.3 L2088.8,761.3 L2090.4,763.3 L2092.0,761.5 L2093.6,758.4 L2095.2,759.7 L2096.8,761.3 L2098.4,758.6 L2100.0,760.4 L2101.6,761.5 L2103.2,762.2 L2104.8,761.8 L2106.4,757.8 L2108.0,762.3 L2109.6,758.8 L2111.2,760.4 L2112.8,758.9 L2114.4,761.8 L2116.0,760.1 L2117.6,760.6 L2119.2,761.0 L2120.8,760.1 L2122.4,759.1 L2124.0,762.6 L2125.6,761.2 L2127.2,761.4 L2128.8,757.2 L2130.4,756.8 L2132.0,762.9 L2133.6,761.2 L2135.2,757.0 L2136.8,760.7 L2138.4,760.1 L2140.0,758.2 L2141.6,759.1 L2143.2,762.9 L2144.8,758.6 L2146.4,760.6 L2148.0,758.4 L2149.6,757.1 L2151.2,763.7 L2152.8,760.7 L2154.4,758.8 L2156.0,758.9 L2157.6,759.0 L2159.2,757.7 L2160.8,760.1 L2162.4,760.4 L2164.0,758.6 L2165.6,759.2 L2167.2,757.0 L2168.8,759.6 L2170.4,755.8 L2172.0,758.9 L2173.6,761.5 L2175.2,758.5 L2176.8,763.5 L2178.4,757.1 L2180.0,758.5 L2181.6,758.8 L2183.2,760.4 L2184.8,760.8 L2186.4,759.0 L2188.0,756.2 L2189.6,761.0 L2191.2,759.7 L2192.8,759.9 L2194.4,755.8 L2196.0,759.3 L2197.6,758.1 L2199.2,760.0 L2200.8,761.2 L2202.4,756.8 L2204.0,758.0 L2205.6,758.2 L2207.2,756.8 L2208.8,759.0 L2210.4,758.9 L2212.0,756.5 L2213.6,756.5 L2215.2,758.3 L2216.8,754.8 L2218.4,758.3 L2220.0,759.1 L2221.6,759.1 L2223.2,756.0 L2224.8,760.5 L2226.4,761.0 L2228.0,755.6 L2229.6,760.3 L2231.2,759.6 L2232.8,758.9 L2234.4,756.1 L2236.0,759.0 L2237.6,755.4 L2239.2,757.3 L2240.8,758.6 L2242.4,758.0 L2244.0,756.7 L2245.6,757.8"/>
<path stroke="#515151" d="M170.4,447.6 L172.0,450.6 L173.6,450.3 L175.2,446.4 L176.8,446.9 L178.4,446.4 L180.0,449.0 L181.6,447.6 L183.2,449.5 L184.8,443.5 L186.4,451.4 L188.0,447.6 L189.6,449.5 L191.2,447.6 L192.8,447.1 L194.4,449.1 L196.0,450.0 L197.6,447.6 L199.2,447.8 L200.8,449.8 L202.4,446.2 L204.0,444.8 L205.6,449.2 L207.2,446.8 L208.8,443.9 L210.4,446.5 L212.0,447.4 L213.6,445.7 L215.2,445.1 L216.8,448.6 L218.4,450.6 L220.0,448.1 L221.6,446.9 L223.2,449.6 L224.8,450.4 L226.4,448.1 L228.0,450.0 L229.6,451.2 L231.2,448.4 L232.8,447.0 L234.4,449.7 L236.0,449.5 L237.6,451.5 L239.2,446.1 L240.8,447.5 L242.4,447.1 L244.0,445.1 L245.6,449.4 L247.2,450.4 L248.8,447.5 L250.4,452.4 L252.0,451.1 L253.6,450.7 L255.2,450.2 L256.8,451.5 L258.4,446.3 L260.0,450.8 L261.6,450.8 L263.2,445.3 L264.8,450.2 L266.4,448.9 L268.0,451.3 L269.6,448.5 L271.2,449.5 L272.8,450.3 L274.4,447.5 L276.0,450.9 L277.6,449.3 L279.2,450.7 L280.8,448.4 L282.4,452.1 L284.0,451.0 L285.6,449.3 L287.2,451.1 L288.8,452.6 L290.4,453.8 L292.0,446.1 L293.6,451.8 L295.2,450.8 L296.8,449.5 L298.4,447.4 L300.0,452.7 L301.6,446.9 L303.2,451.1 L304.8,452.8 L306.4,446.1 L308.0,449.1 L309.6,446.8 L311.2,450.4 L312.8,453.3 L314.4,454.5 L316.0,445.7 L317.6,448.5 L319.2,451.4 L320.8,453.4 L322.4,450.8 L324.0,448.1 L325.6,450.5 L327.2,449.8 L328.8,449.3 L330.4,448.1 L332.0,450.7 L333.6,450.5 L335.2,449.6 L336.8,449.3 L338.4,446.8 L340.0,448.7 L341.6,452.6 L343.2,449.3 L344.8,446.5 L346.4,452.8 L348.0,451.0 L349.6,454.6 L351.2,449.9 L352.8,448.7 L354.4,446.4 L356.0,452.8 L357.6,455.7 L359.2,447.9 L360.8,448.2 L362.4,451.1 L364.0,447.8 L365.6,449.1 L367.2,448.9 L368.8,450.2 L370.4,452.2 L372.0,449.8 L373.6,451.8 L375.2,448.7 L376.8,450.4 L378.4,444.8 L380.0,446.3 L381.6,451.5 L383.2,448.3 L384.8,451.0 L386.4,450.9 L388.0,452.7 L389.6,451.5 L391.2,452.0 L392.8,449.4 L394.4,448.0 L396.0,447.9 L397.6,448.5 L399.2,447.0 L400.8,448.3 L402.4,449.4 L404.0,450.2 L405.6,448.8 L407.2,445.1 L408.8,449.4 L410.4,450.1 L412.0,452.0 L413.6,450.9 L415.2,448.1 L416.8,447.9 L418.4,454.1 L420.0,451.2 L421.6,453.7 L423.2,454.4 L424.8,447.6 L426.4,450.4 L428.0,450.5 L429.6,450.7 L431.2,450.7 L432.8,449.9 L434.4,449.8 L436.0,446.0 L437.6,449.0 L439.2,447.7 L440.8,449.7 L442.4,448.3 L444.0,450.8 L445.6,451.3 L447.2,450.1 L448.8,450.1 L450.4,449.6 L452.0,448.3 L453.6,449.0 L455.2,448.2 L456.8,450.2 L458.4,449.3 L460.0,450.6 L461.6,446.2 L463.2,451.3 L464.8,447.5 L466.4,447.6 L468.0,448.8 L469.6,447.9 L471.2,449.9 L472.8,447.9 L474.4,446.7 L476.0,447.2 L477.6,452.2 L479.2,449.3 L480.8,446.5 L482.4,449.2 L484.0,445.5 L485.6,453.2 L487.2,445.6 L488.8,450.2 L490.4,450.3 L492.0,445.7 L493.6,449.7 L495.2,451.3 L496.8,450.1 L498.4,449.6 L500.0,451.1 L501.6,449.3 L503.2,449.7 L504.8,448.6 L506.4,450.3 L508.0,446.7 L509.6,450.7 L511.2,447.7 L512.8,446.3 L514.4,449.6 L516.0,452.6 L517.6,450.9 L519.2,447.5 L520.8,450.3 L522.4,447.6 L524.0,448.4 L525.6,448.8 L527.2,443.3 L528.8,449.0 L530.4,446.2 L532.0,446.9 L533.6,445.1 L535.2,445.0 L536.8,446.3 L538.4,450.3 L540.0,452.2 L541.6,448.3 L543.2,450.9 L544.8,447.7 L546.4,443.9 L548.0,448.6 L549.6,449.3 L551.2,447.2 L552.8,448.9 L554.4,449.5 L556.0,446.2 L557.6,444.7 L559.2,447.6 L560.8,447.6 L562.4,447.2 L564.0,450.3 L565.6,452.0 L567.2,447.0 L568.8,449.5 L570.4,450.1 L572.0,449.5 L573.6,450.3 L575.2,446.9 L576.8,449.5 L578.4,452.4 L580.0,449.6 L581.6,446.3 L583.2,449.1 L584.8,450.6 L586.4,448.5 L588.0,446.3 L589.6,451.1 L591.2,444.7 L592.8,448.7 L594.4,447.5 L596.0,444.7 L597.6,450.2 L599.2,448.2 L600.8,444.7 L602.4,448.7 L604.0,446.3 L605.6,442.9 L607.2,445.7 L608.8,447.8 L610.4,448.7 L612.0,447.6 L613.6,447.2 L615.2,448.2 L616.8,446.6 L618.4,449.8 L620.0,447.4 L621.6,447.7 L623.2,448.2 L624.8,444.5 L626.4,445.3 L628.0,450.4 L629.6,447.6 L631.2,446.2 L632.8,447.6 L634.4,445.7 L636.0,447.4 L637.6,445.2 L639.2,447.3 L640.8,443.0 L642.4,449.7 L644.0,445.4 L645.6,442.9 L647.2,446.0 L648.8,445.6 L650.4,446.8 L652.0,443.8 L653.6,447.3 L655.2,454.7 L656.8,443.3 L658.4,447.0 L660.0,445.5 L661.6,446.6 L663.2,442.0 L664.8,443.4 L666.4,447.1 L668.0,445.9 L669.6,449.7 L671.2,444.3 L672.8,446.3 L674.4,452.5 L676.0,444.0 L677.6,443.7 L679.2,445.6 L680.8,445.5 L682.4,447.5 L684.0,445.8 L685.6,443.8 L687.2,445.9 L688.8,451.5 L690.4,448.3 L692.0,438.9 L693.6,444.9 L695.2,443.2 L696.8,446.5 L698.4,444.7 L700.0,449.4 L701.6,447.1 L703.2,446.9 L704.8,445.2 L706.4,444.6 L708.0,445.4 L709.6,447.5 L711.2,445.7 L712.8,443.5 L714.4,447.2 L716.0,444.6 L717.6,443.9 L719.2,442.1 L720.8,442.5 L722.4,442.2 L724.0,437.2 L725.6,445.8 L727.2,444.6 L728.8,442.7 L730.4,445.5 L732.0,444.0 L733.6,443.7 L735.2,437.0 L736.8,442.0 L738.4,443.7 L740.0,446.0 L741.6,446.4 L743.2,445.3 L744.8,439.2 L746.4,436.7 L748.0,443.0 L749.6,441.6 L751.2,443.6 L752.8,441.0 L754.4,441.6 L756.0,437.6 L757.6,441.9 L759.2,439.7 L760.8,441.4 L762.4,441.5 L764.0,440.1 L765.6,440.9 L767.2,440.0 L768.8,441.7 L770.4,440.9 L772.0,438.4 L773.6,438.1 L775.2,443.4 L776.8,439.0 L778.4,441.3 L780.0,439.8 L781.6,437.4 L783.2,436.8 L784.8,438.7 L786.4,438.9 L788.0,439.5 L789.6,435.0 L791.2,436.4 L792.8,437.4 L794.4,441.1 L796.0,431.8 L797.6,438.1 L799.2,435.6 L800.8,437.7 L802.4,435.4 L804.0,437.2 L805.6,439.8 L807.2,436.8 L808.8,436.8 L810.4,436.4 L812.0,433.6 L813.6,436.4 L815.2,434.4 L816.8,432.8 L818.4,434.4 L820.0,433.7 L821.6,435.8 L823.2,433.7 L824.8,432.3 L826.4,436.8 L828.0,435.4 L829.6,435.9 L831.2,434.1 L832.8,432.1 L834.4,431.2 L836.0,431.2 L837.6,433.9 L839.2,431.6 L840.8,427.6 L842.4,430.7 L844.0,427.2 L845.6,430.7 L847.2,427.1 L848.8,426.7 L850.4,429.7 L852.0,428.9 L853.6,424.9 L855.2,430.3 L856.8,433.3 L858.4,424.3 L860.0,431.8 L861.6,425.4 L863.2,425.5 L864.8,425.9 L866.4,422.5 L868.0,428.7 L869.6,426.3 L871.2,423.0 L872.8,423.7 L874.4,420.3 L876.0,422.7 L877.6,425.4 L879.2,418.6 L880.8,421.2 L882.4,422.2 L884.0,424.0 L885.6,424.3 L887.2,419.5 L888.8,418.4 L890.4,420.9 L892.0,418.5 L893.6,418.3 L895.2,421.3 L896.8,422.4 L898.4,418.5 L900.0,417.0 L901.6,418.5 L903.2,412.1 L904.8,416.4 L906.4,413.4 L908.0,421.5 L909.6,417.1 L911.2,415.3 L912.8,414.2 L914.4,408.1 L916.0,415.7 L917.6,417.6 L919.2,411.5 L920.8,414.6 L922.4,414.4 L924.0,408.4 L925.6,414.2 L927.2,414.9 L928.8,411.8 L930.4,410.7 L932.0,412.5 L933.6,406.3 L935.2,410.0 L936.8,412.1 L938.4,406.0 L940.0,411.2 L941.6,407.3 L943.2,402.8 L944.8,407.4 L946.4,404.8 L948.0,407.7 L949.6,403.6 L951.2,408.7 L952.8,403.9 L954.4,406.2 L956.0,403.5 L957.6,403.8 L959.2,407.2 L960.8,404.4 L962.4,402.4 L964.0,399.9 L965.6,405.6 L967.2,404.1 L968.8,401.1 L970.4,402.1 L972.0,398.5 L973.6,398.1 L975.2,398.2 L976.8,400.8 L978.4,400.2 L980.0,397.2 L981.6,400.5 L983.2,400.2 L984.8,398.2 L986.4,399.9 L988.0,396.1 L989.6,396.1 L991.2,397.1 L992.8,395.3 L994.4,396.9 L996.0,391.1 L997.6,397.5 L999.2,391.2 L1000.8,392.3 L1002.4,388.6 L1004.0,393.1 L1005.6,394.3 L1007.2,393.1 L1008.8,391.9 L1010.4,385.0 L1012.0,386.4 L1013.6,386.6 L1015.2,384.7 L1016.8,389.4 L1018.4,386.2 L1020.0,384.9 L1021.6,385.5 L1023.2,381.0 L1024.8,380.3 L1026.4,379.6 L1028.0,382.5 L1029.6,381.2 L1031.2,381.0 L1032.8,381.5 L1034.4,374.1 L1036.0,375.3 L1037.6,376.3 L1039.2,371.3 L1040.8,372.5 L1042.4,375.7 L1044.0,374.9 L1045.6,373.8 L1047.2,370.0 L1048.8,368.2 L1050.4,370.6 L1052.0,365.5 L1053.6,366.2 L1055.2,367.7 L1056.8,361.7 L1058.4,359.6 L1060.0,359.8 L1061.6,359.9 L1063.2,358.0 L1064.8,355.4 L1066.4,354.8 L1068.0,346.9 L1069.6,347.1 L1071.2,348.1 L1072.8,342.9 L1074.4,339.6 L1076.0,337.7 L1077.6,336.1 L1079.2,335.5 L1080.8,330.2 L1082.4,330.8 L1084.0,331.9 L1085.6,323.1 L1087.2,323.8 L1088.8,317.2 L1090.4,309.2 L1092.0,307.7 L1093.6,301.1 L1095.2,301.9 L1096.8,291.0 L1098.4,293.8 L1100.0,286.4 L1101.6,272.8 L1103.2,276.7 L1104.8,274.2 L1106.4,261.3 L1108.0,262.0 L1109.6,247.3 L1111.2,248.8 L1112.8,236.6 L1114.4,238.2 L1116.0,224.1 L1117.6,215.0 L1119.2,220.0 L1120.8,221.7 L1122.4,206.3 L1124.0,206.3 L1125.6,197.2 L1127.2,187.1 L1128.8,180.8 L1130.4,175.1 L1132.0,154.3 L1133.6,152.4 L1135.2,143.7 L1136.8,129.8 L1138.4,135.6 L1140.0,129.2 L1141.6,107.4 L1143.2,109.4 L1144.8,94.4 L1146.4,87.7 L1148.0,91.9 L1149.6,84.4 L1151.2,83.6 L1152.8,88.3 L1154.4,87.4 L1156.0,85.9 L1157.6,76.4 L1159.2,76.7 L1160.8,91.9 L1162.4,92.2 L1164.0,106.1 L1165.6,109.0 L1167.2,121.1 L1168.8,126.2 L1170.4,148.8 L1172.0,149.2 L1173.6,163.8 L1175.2,174.3 L1176.8,189.2 L1178.4,187.8 L1180.0,200.8 L1181.6,207.8 L1183.2,218.5 L1184.8,226.6 L1186.4,231.4 L1188.0,241.1 L1189.6,245.2 L1191.2,253.7 L1192.8,256.9 L1194.4,259.8 L1196.0,266.4 L1197.6,271.8 L1199.2,281.9 L1200.8,276.9 L1202.4,283.8 L1204.0,292.6 L1205.6,287.2 L1207.2,294.1 L1208.8,300.7 L1210.4,307.8 L1212.0,318.6 L1213.6,315.0 L1215.2,319.9 L1216.8,317.9 L1218.4,313.2 L1220.0,315.7 L1221.6,327.6 L1223.2,327.2 L1224.8,324.8 L1226.4,333.8 L1228.0,327.9 L1229.6,337.6 L1231.2,340.3 L1232.8,335.5 L1234.4,336.2 L1236.0,343.3 L1237.6,339.2 L1239.2,346.2 L1240.8,341.7 L1242.4,348.7 L1244.0,348.0 L1245.6,347.7 L1247.2,347.5 L1248.8,351.8 L1250.4,346.8 L1252.0,352.2 L1253.6,352.6 L1255.2,356.4 L1256.8,351.7 L1258.4,360.7 L1260.0,355.7 L1261.6,354.0 L1263.2,361.6 L1264.8,362.9 L1266.4,358.2 L1268.0,356.6 L1269.6,359.4 L1271.2,357.6 L1272.8,358.7 L1274.4,363.9 L1276.0,360.6 L1277.6,359.8 L1279.2,360.3 L1280.8,359.0 L1282.4,361.4 L1284.0,361.3 L1285.6,357.7 L1287.2,358.8 L1288.8,365.0 L1290.4,359.3 L1292.0,357.4 L1293.6,363.4 L1295.2,357.5 L1296.8,354.2 L1298.4,358.8 L1300.0,354.1 L1301.6,354.9 L1303.2,356.8 L1304.8,355.2 L1306.4,353.0 L1308.0,353.2 L1309.6,352.7 L1311.2,357.2 L1312.8,351.5 L1314.4,351.6 L1316.0,358.5 L1317.6,350.8 L1319.2,356.1 L1320.8,355.2 L1322.4,350.6 L1324.0,346.4 L1325.6,351.1 L1327.2,351.1 L1328.8,351.1 L1330.4,347.7 L1332.0,349.8 L1333.6,349.2 L1335.2,340.9 L1336.8,346.5 L1338.4,341.3 L1340.0,337.2 L1341.6,335.4 L1343.2,339.0 L1344.8,333.4 L1346.4,322.4 L1348.0,325.5 L1349.6,322.6 L1351.2,320.6 L1352.8,317.7 L1354.4,312.8 L1356.0,317.6 L1357.6,309.5 L1359.2,307.9 L1360.8,303.0 L1362.4,298.0 L1364.0,297.6 L1365.6,291.0 L1367.2,281.7 L1368.8,274.3 L1370.4,268.6 L1372.0,265.2 L1373.6,254.6 L1375.2,248.2 L1376.8,240.4 L1378.4,234.9 L1380.0,230.1 L1381.6,215.2 L1383.2,219.4 L1384.8,202.6 L1386.4,195.6 L1388.0,195.1 L1389.6,183.8 L1391.2,177.5 L1392.8,171.2 L1394.4,164.4 L1396.0,168.9 L1397.6,171.7 L1399.2,163.1 L1400.8,171.5 L1402.4,161.6 L1404.0,162.9 L1405.6,167.6 L1407.2,165.7 L1408.8,168.8 L1410.4,164.6 L1412.0,165.8 L1413.6,165.5 L1415.2,171.3 L1416.8,175.1 L1418.4,176.9 L1420.0,186.7 L1421.6,186.4 L1423.2,185.0 L1424.8,205.5 L1426.4,197.3 L1428.0,200.0 L1429.6,213.9 L1431.2,219.5 L1432.8,218.8 L1434.4,227.1 L1436.0,238.5 L1437.6,255.3 L1439.2,260.1 L1440.8,268.8 L1442.4,282.2 L1444.0,296.6 L1445.6,297.6 L1447.2,308.7 L1448.8,313.6 L1450.4,332.3 L1452.0,339.3 L1453.6,344.3 L1455.2,348.1 L1456.8,356.6 L1458.4,354.0 L1460.0,364.8 L1461.6,364.0 L1463.2,367.4 L1464.8,372.4 L1466.4,376.8 L1468.0,382.9 L1469.6,387.0 L1471.2,389.6 L1472.8,390.1 L1474.4,397.6 L1476.0,398.3 L1477.6,404.0 L1479.2,400.9 L1480.8,398.3 L1482.4,405.9 L1484.0,414.1 L1485.6,411.5 L1487.2,411.4 L1488.8,415.5 L1490.4,415.9 L1492.0,417.2 L1493.6,416.2 L1495.2,418.9 L1496.8,420.4 L1498.4,419.5 L1500.0,419.5 L1501.6,423.5 L1503.2,426.4 L1504.8,426.4 L1506.4,426.7 L1508.0,427.3 L1509.6,432.8 L1511.2,427.8 L1512.8,430.1 L1514.4,432.7 L1516.0,428.6 L1517.6,429.5 L1519.2,431.8 L1520.8,433.6 L1522.4,430.7 L1524.0,431.2 L1525.6,430.8 L1527.2,428.1 L1528.8,433.9 L1530.4,430.9 L1532.0,427.7 L1533.6,431.7 L1535.2,428.2 L1536.8,430.2 L1538.4,432.9 L1540.0,430.9 L1541.6,435.9 L1543.2,430.1 L1544.8,434.4 L1546.4,435.4 L1548.0,437.7 L1549.6,436.7 L1551.2,435.3 L1552.8,435.1 L1554.4,435.0 L1556.0,438.0 L1557.6,434.0 L1559.2,436.9 L1560.8,435.7 L1562.4,436.7 L1564.0,435.7 L1565.6,441.4 L1567.2,435.1 L1568.8,437.4 L1570.4,437.6 L1572.0,438.5 L1573.6,438.3 L1575.2,438.4 L1576.8,439.8 L1578.4,434.2 L1580.0,437.9 L1581.6,435.1 L1583.2,438.7 L1584.8,435.5 L1586.4,436.2 L1588.0,438.4 L1589.6,441.9 L1591.2,440.1 L1592.8,439.6 L1594.4,442.3 L1596.0,437.0 L1597.6,434.4 L1599.2,438.4 L1600.8,438.9 L1602.4,442.5 L1604.0,444.7 L1605.6,436.7 L1607.2,445.6 L1608.8,443.6 L1610.4,442.0 L1612.0,441.0 L1613.6,445.9 L1615.2,440.5 L1616.8,439.3 L1618.4,440.8 L1620.0,437.4 L1621.6,441.8 L1623.2,440.5 L1624.8,441.6 L1626.4,441.8 L1628.0,438.6 L1629.6,444.1 L1631.2,438.8 L1632.8,443.3 L1634.4,437.7 L1636.0,442.3 L1637.6,439.6 L1639.2,441.7 L1640.8,440.1 L1642.4,436.7 L1644.0,439.2 L1645.6,442.0 L1647.2,443.4 L1648.8,438.6 L1650.4,437.2 L1652.0,440.1 L1653.6,441.7 L1655.2,440.8 L1656.8,440.5 L1658.4,444.3 L1660.0,444.7 L1661.6,444.2 L1663.2,440.4 L1664.8,442.8 L1666.4,442.2 L1668.0,439.4 L1669.6,444.8 L1671.2,443.0 L1672.8,441.7 L1674.4,446.1 L1676.0,444.7 L1677.6,444.9 L1679.2,445.7 L1680.8,444.6 L1682.4,440.1 L1684.0,442.1 L1685.6,445.3 L1687.2,441.3 L1688.8,443.1 L1690.4,443.9 L1692.0,446.3 L1693.6,446.0 L1695.2,445.1 L1696.8,442.6 L1698.4,445.1 L1700.0,444.2 L1701.6,442.7 L1703.2,446.2 L1704.8,444.2 L1706.4,441.3 L1708.0,445.9 L1709.6,442.4 L1711.2,444.4 L1712.8,439.5 L1714.4,443.0 L1716.0,440.9 L1717.6,440.8 L1719.2,438.6 L1720.8,448.0 L1722.4,442.7 L1724.0,443.6 L1725.6,445.6 L1727.2,442.7 L1728.8,444.2 L1730.4,439.9 L1732.0,443.5 L1733.6,442.1 L1735.2,444.2 L1736.8,443.4 L1738.4,439.8 L1740.0,438.8 L1741.6,440.7 L1743.2,444.7 L1744.8,444.0 L1746.4,443.9 L1748.0,438.4 L1749.6,436.8 L1751.2,441.6 L1752.8,442.3 L1754.4,441.6 L1756.0,443.8 L1757.6,442.6 L1759.2,440.3 L1760.8,441.0 L1762.4,443.3 L1764.0,443.2 L1765.6,442.8 L1767.2,448.2 L1768.8,442.4 L1770.4,443.3 L1772.0,440.7 L1773.6,442.2 L1775.2,444.2 L1776.8,444.3 L1778.4,442.6 L1780.0,443.8 L1781.6,443.0 L1783.2,438.6 L1784.8,435.3 L1786.4,448.2 L1788.0,444.7 L1789.6,442.7 L1791.2,438.8 L1792.8,439.8 L1794.4,445.9 L1796.0,436.3 L1797.6,441.9 L1799.2,444.7 L1800.8,443.0 L1802.4,444.4 L1804.0,442.3 L1805.6,448.1 L1807.2,440.2 L1808.8,439.4 L1810.4,443.2 L1812.0,445.8 L1813.6,442.4 L1815.2,444.9 L1816.8,441.3 L1818.4,439.8 L1820.0,445.7 L1821.6,446.1 L1823.2,446.0 L1824.8,441.5 L1826.4,439.8 L1828.0,439.8 L1829.6,442.0 L1831.2,443.9 L1832.8,443.7 L1834.4,439.2 L1836.0,443.0 L1837.6,442.6 L1839.2,442.8 L1840.8,442.5 L1842.4,442.1 L1844.0,443.9 L1845.6,442.9 L1847.2,443.1 L1848.8,441.0 L1850.4,443.5 L1852.0,442.3 L1853.6,437.8 L1855.2,443.8 L1856.8,442.1 L1858.4,444.8 L1860.0,442.3 L1861.6,442.5 L1863.2,443.2 L1864.8,442.7 L1866.4,441.7 L1868.0,438.6 L1869.6,447.0 L1871.2,439.2 L1872.8,442.0 L1874.4,444.3 L1876.0,443.7 L1877.6,444.2 L1879.2,444.6 L1880.8,445.8 L1882.4,443.6 L1884.0,449.6 L1885.6,440.6 L1887.2,443.5 L1888.8,442.2 L1890.4,441.8 L1892.0,443.7 L1893.6,446.4 L1895.2,441.4 L1896.8,441.5 L1898.4,444.8 L1900.0,444.4 L1901.6,447.6 L1903.2,445.5 L1904.8,443.7 L1906.4,442.4 L1908.0,443.7 L1909.6,442.8 L1911.2,440.1 L1912.8,443.3 L1914.4,442.9 L1916.0,442.8 L1917.6,442.4 L1919.2,447.3 L1920.8,445.0 L1922.4,445.6 L1924.0,442.0 L1925.6,441.1 L1927.2,442.8 L1928.8,444.0 L1930.4,442.7 L1932.0,443.1 L1933.6,445.8 L1935.2,444.2 L1936.8,441.3 L1938.4,442.6 L1940.0,442.1 L1941.6,444.0 L1943.2,441.0 L1944.8,443.3 L1946.4,445.3 L1948.0,443.8 L1949.6,441.6 L1951.2,442.3 L1952.8,444.0 L1954.4,444.9 L1956.0,445.7 L1957.6,443.5 L1959.2,440.8 L1960.8,447.1 L1962.4,444.5 L1964.0,444.8 L1965.6,444.6 L1967.2,441.5 L1968.8,443.1 L1970.4,444.5 L1972.0,446.3 L1973.6,444.1 L1975.2,436.7 L1976.8,443.4 L1978.4,444.8 L1980.0,446.9 L1981.6,445.6 L1983.2,449.7 L1984.8,447.2 L1986.4,447.1 L1988.0,446.1 L1989.6,440.8 L1991.2,445.9 L1992.8,445.4 L1994.4,442.8 L1996.0,445.3 L1997.6,445.0 L1999.2,442.9 L2000.8,443.7 L2002.4,443.4 L2004.0,444.5 L2005.6,443.0 L2007.2,445.2 L2008.8,439.6 L2010.4,443.3 L2012.0,440.1 L2013.6,442.8 L2015.2,445.1 L2016.8,444.0 L2018.4,443.6 L2020.0,444.0 L2021.6,447.5 L2023.2,441.3 L2024.8,445.9 L2026.4,440.3 L2028.0,442.7 L2029.6,444.1 L2031.2,441.7 L2032.8,444.1 L2034.4,445.3 L2036.0,440.9 L2037.6,443.4 L2039.2,442.7 L2040.8,439.0 L2042.4,443.0 L2044.0,441.6 L2045.6,446.5 L2047.2,441.3 L2048.8,447.2 L2050.4,442.1 L2052.0,447.7 L2053.6,444.4 L2055.2,444.2 L2056.8,445.0 L2058.4,445.1 L2060.0,446.2 L2061.6,447.0 L2063.2,442.1 L2064.8,440.0 L2066.4,436.7 L2068.0,441.9 L2069.6,444.5 L2071.2,443.5 L2072.8,442.9 L2074.4,441.8 L2076.0,441.1 L2077.6,441.8 L2079.2,443.3 L2080.8,438.3 L2082.4,444.0 L2084.0,438.9 L2085.6,441.8 L2087.2,440.7 L2088.8,441.2 L2090.4,439.6 L2092.0,439.3 L2093.6,441.4 L2095.2,439.4 L2096.8,447.5 L2098.4,440.8 L2100.0,440.2 L2101.6,440.4 L2103.2,439.1 L2104.8,435.9 L2106.4,440.9 L2108.0,442.1 L2109.6,437.9 L2111.2,441.3 L2112.8,438.4 L2114.4,441.1 L2116.0,441.9 L2117.6,442.2 L2119.2,442.0 L2120.8,439.3 L2122.4,442.9 L2124.0,439.8 L2125.6,441.6 L2127.2,442.3 L2128.8,439.9 L2130.4,437.6 L2132.0,441.9 L2133.6,437.9 L2135.2,438.3 L2136.8,437.7 L2138.4,442.2 L2140.0,439.8 L2141.6,434.9 L2143.2,441.7 L2144.8,444.7 L2146.4,444.0 L2148.0,438.4 L2149.6,439.8 L2151.2,440.7 L2152.8,441.6 L2154.4,439.5 L2156.0,436.8 L2157.6,441.0 L2159.2,440.6 L2160.8,436.0 L2162.4,438.1 L2164.0,439.5 L2165.6,438.8 L2167.2,439.9 L2168.8,440.4 L2170.4,439.8 L2172.0,438.2 L2173.6,435.2 L2175.2,439.7 L2176.8,441.4 L2178.4,442.6 L2180.0,437.9 L2181.6,437.8 L2183.2,441.1 L2184.8,441.0 L2186.4,438.4 L2188.0,439.2 L2189.6,435.6 L2191.2,438.7 L2192.8,435.3 L2194.4,436.8 L2196.0,436.8 L2197.6,435.9 L2199.2,431.9 L2200.8,434.8 L2202.4,437.4 L2204.0,436.4 L2205.6,435.5 L2207.2,437.3 L2208.8,437.9 L2210.4,438.1 L2212.0,434.2 L2213.6,436.0 L2215.2,435.1 L2216.8,433.7 L2218.4,432.1 L2220.0,435.3 L2221.6,433.4 L2223.2,440.3 L2224.8,435.0 L2226.4,434.6 L2228.0,434.1 L2229.6,439.3 L2231.2,432.6 L2232.8,434.3 L2234.4,432.8 L2236.0,434.2 L2237.6,434.3 L2239.2,436.8 L2240.8,430.8 L2242.4,434.0 L2244.0,437.8 L2245.6,432.8"/>
</g>
<g id="ticklabels" font-size="70.8" text-anchor="middle">
<text transform="translate(277.9,1776.5) scale(1,1.03)">500</text>
<text transform="translate(795.6,1776.5) scale(1,1.03)">1000</text>
<text transform="translate(1311.6,1776.5) scale(1,1.03)">1500</text>
<text transform="translate(1828.6,1776.5) scale(1,1.03)">2000</text>
</g>
<text id="xtitle" x="898.5" y="1908.9" font-size="94.5">Raman shift/cm<tspan font-size="64" dx="0" dy="-38.5">-1</tspan></text>
<text id="ytitle" transform="translate(101.2,1034.1) rotate(-90)" font-size="94.9">Intensity</text>
<g id="labels">
<text x="198.7" y="409.7" font-size="71.6">acid treated 1#</text>
<text x="196.9" y="729.7" font-size="71.6">acid treated 2#</text>
<text x="194.9" y="1022.9" font-size="71.6">acid treated 3#</text>
<text x="207.0" y="1486.6" font-size="70.8">MWCNT</text>
<text x="1812.7" y="376" font-size="71.5">I<tspan dy="23.2">D</tspan><tspan dy="-23.2">/I</tspan><tspan dy="23.2">G</tspan><tspan dx="-2" dy="-17.4">=</tspan><tspan dy="-5.8">1.45</tspan></text>
<text x="1804.2" y="660.3" font-size="71.5">I<tspan dy="23.2">D</tspan><tspan dy="-23.2">/I</tspan><tspan dy="23.2">G</tspan><tspan dx="-2" dy="-17.4">=</tspan><tspan dy="-5.8">1.42</tspan></text>
<text x="1812.7" y="988" font-size="71.5">I<tspan dy="23.2">D</tspan><tspan dy="-23.2">/I</tspan><tspan dy="23.2">G</tspan><tspan dx="-2" dy="-17.4">=</tspan><tspan dy="-5.8">1.34</tspan></text>
<text x="1793.9" y="1451.2" font-size="71.5">I<tspan dy="23.2">D</tspan><tspan dy="-23.2">/I</tspan><tspan dy="23.2">G</tspan><tspan dx="-2" dy="-17.4">=</tspan><tspan dy="-5.8">1.26</tspan></text>
</g>
</svg>
</body>
</html>
